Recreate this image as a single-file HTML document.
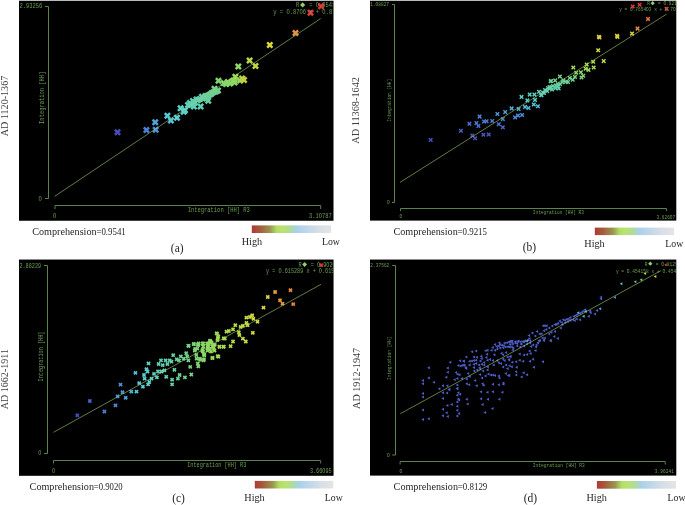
<!DOCTYPE html>
<html><head><meta charset="utf-8"><style>
html,body{margin:0;padding:0;background:#fff;width:685px;height:505px;overflow:hidden}
svg{display:block;will-change:transform}
</style></head><body>
<svg width="685" height="505" viewBox="0 0 685 505">
<defs><linearGradient id="cb" x1="0" x2="1" y1="0" y2="0">
<stop offset="0" stop-color="#ad3a36"/>
<stop offset="0.10" stop-color="#a55a3c"/>
<stop offset="0.23" stop-color="#9a9650"/>
<stop offset="0.31" stop-color="#b0dc64"/>
<stop offset="0.38" stop-color="#bce26e"/>
<stop offset="0.48" stop-color="#aedc98"/>
<stop offset="0.55" stop-color="#a8d2e0"/>
<stop offset="0.60" stop-color="#b0d2ec"/>
<stop offset="0.72" stop-color="#c4d8e8"/>
<stop offset="0.85" stop-color="#d8dfe6"/>
<stop offset="1" stop-color="#e4e4e6"/>
</linearGradient>
<clipPath id="ca"><rect x="19" y="0.73" width="314.5" height="220"/></clipPath>
<clipPath id="cbp"><rect x="370" y="0.73" width="306.3" height="220"/></clipPath>
<clipPath id="cc"><rect x="19" y="259.55" width="314.55" height="216"/></clipPath>
<clipPath id="cd"><rect x="370" y="259.55" width="306.3" height="216"/></clipPath>
</defs>
<rect width="685" height="505" fill="#fff"/>
<rect x="19" y="0.73" width="314.50" height="220.02" fill="#000"/>
<rect x="370" y="0.73" width="306.30" height="219.87" fill="#000"/>
<rect x="19" y="259.55" width="314.55" height="216.25" fill="#000"/>
<rect x="370" y="259.55" width="306.30" height="216.05" fill="#000"/>
<path d="M45 6.5H48.5V198.5H45" fill="none" stroke="#5a844a" stroke-width="1"/>
<path d="M55 209V205.5H320.7V209" fill="none" stroke="#5a844a" stroke-width="1"/>
<path d="M392 4.5H394.5V202.5H392" fill="none" stroke="#5a844a" stroke-width="1"/>
<path d="M400.5 211V208.5H666.5V211" fill="none" stroke="#5a844a" stroke-width="1"/>
<path d="M44 265.5H47.5V453.5H44" fill="none" stroke="#5a844a" stroke-width="1"/>
<path d="M53.5 463.5V460.5H320.7V463.5" fill="none" stroke="#5a844a" stroke-width="1"/>
<path d="M392.2 265.5H395.5V455H392.2" fill="none" stroke="#5a844a" stroke-width="1"/>
<path d="M400.1 464.5V461.5H665.2V464.5" fill="none" stroke="#5a844a" stroke-width="1"/>
<path d="M119.23 128.70L121.00 130.47L119.27 132.20L121.00 133.93L119.23 135.70L117.50 133.97L115.77 135.70L114.00 133.93L115.73 132.20L114.00 130.47L115.77 128.70L117.50 130.43Z" fill="#484cb8"/>
<path d="M148.13 126.50L149.90 128.27L148.17 130.00L149.90 131.73L148.13 133.50L146.40 131.77L144.67 133.50L142.90 131.73L144.63 130.00L142.90 128.27L144.67 126.50L146.40 128.23Z" fill="#4882d8"/>
<path d="M156.93 118.70L158.70 120.47L156.97 122.20L158.70 123.93L156.93 125.70L155.20 123.97L153.47 125.70L151.70 123.93L153.43 122.20L151.70 120.47L153.47 118.70L155.20 120.43Z" fill="#4fa4d8"/>
<path d="M157.43 126.20L159.20 127.97L157.47 129.70L159.20 131.43L157.43 133.20L155.70 131.47L153.97 133.20L152.20 131.43L153.93 129.70L152.20 127.97L153.97 126.20L155.70 127.93Z" fill="#4b92d8"/>
<path d="M169.13 112.20L170.90 113.97L169.17 115.70L170.90 117.43L169.13 119.20L167.40 117.47L165.67 119.20L163.90 117.43L165.63 115.70L163.90 113.97L165.67 112.20L167.40 113.93Z" fill="#56c8d8"/>
<path d="M172.63 116.90L174.40 118.67L172.67 120.40L174.40 122.13L172.63 123.90L170.90 122.17L169.17 123.90L167.40 122.13L169.13 120.40L167.40 118.67L169.17 116.90L170.90 118.63Z" fill="#55c2d8"/>
<path d="M178.73 114.30L180.50 116.07L178.77 117.80L180.50 119.53L178.73 121.30L177.00 119.57L175.27 121.30L173.50 119.53L175.23 117.80L173.50 116.07L175.27 114.30L177.00 116.03Z" fill="#58d0d7"/>
<path d="M182.33 104.70L184.10 106.47L182.37 108.20L184.10 109.93L182.33 111.70L180.60 109.97L178.87 111.70L177.10 109.93L178.83 108.20L177.10 106.47L178.87 104.70L180.60 106.43Z" fill="#5bd0c7"/>
<path d="M185.43 108.20L187.20 109.97L185.47 111.70L187.20 113.43L185.43 115.20L183.70 113.47L181.97 115.20L180.20 113.43L181.93 111.70L180.20 109.97L181.97 108.20L183.70 109.93Z" fill="#5bd0c9"/>
<path d="M186.73 106.70L188.50 108.47L186.77 110.20L188.50 111.93L186.73 113.70L185.00 111.97L183.27 113.70L181.50 111.93L183.23 110.20L181.50 108.47L183.27 106.70L185.00 108.43Z" fill="#5cd0c6"/>
<path d="M192.13 101.30L193.90 103.07L192.17 104.80L193.90 106.53L192.13 108.30L190.40 106.57L188.67 108.30L186.90 106.53L188.63 104.80L186.90 103.07L188.67 101.30L190.40 103.03Z" fill="#5ed0bb"/>
<path d="M195.63 103.10L197.40 104.87L195.67 106.60L197.40 108.33L195.63 110.10L193.90 108.37L192.17 110.10L190.40 108.33L192.13 106.60L190.40 104.87L192.17 103.10L193.90 104.83Z" fill="#5ed0ba"/>
<path d="M198.33 96.00L200.10 97.77L198.37 99.50L200.10 101.23L198.33 103.00L196.60 101.27L194.87 103.00L193.10 101.23L194.83 99.50L193.10 97.77L194.87 96.00L196.60 97.73Z" fill="#61d0ae"/>
<path d="M202.33 103.10L204.10 104.87L202.37 106.60L204.10 108.33L202.33 110.10L200.60 108.37L198.87 110.10L197.10 108.33L198.83 106.60L197.10 104.87L198.87 103.10L200.60 104.83Z" fill="#5fd0b5"/>
<path d="M203.73 93.30L205.50 95.07L203.77 96.80L205.50 98.53L203.73 100.30L202.00 98.57L200.27 100.30L198.50 98.53L200.23 96.80L198.50 95.07L200.27 93.30L202.00 95.03Z" fill="#66d0a5"/>
<path d="M207.23 92.40L209.00 94.17L207.27 95.90L209.00 97.63L207.23 99.40L205.50 97.67L203.77 99.40L202.00 97.63L203.73 95.90L202.00 94.17L203.77 92.40L205.50 94.13Z" fill="#68d0a0"/>
<path d="M209.93 97.30L211.70 99.07L209.97 100.80L211.70 102.53L209.93 104.30L208.20 102.57L206.47 104.30L204.70 102.53L206.43 100.80L204.70 99.07L206.47 97.30L208.20 99.03Z" fill="#66d0a5"/>
<path d="M212.63 90.60L214.40 92.37L212.67 94.10L214.40 95.83L212.63 97.60L210.90 95.87L209.17 97.60L207.40 95.83L209.13 94.10L207.40 92.37L209.17 90.60L210.90 92.33Z" fill="#6cd098"/>
<path d="M216.23 85.30L218.00 87.07L216.27 88.80L218.00 90.53L216.23 92.30L214.50 90.57L212.77 92.30L211.00 90.53L212.73 88.80L211.00 87.07L212.77 85.30L214.50 87.03Z" fill="#74d18a"/>
<path d="M219.73 87.00L221.50 88.77L219.77 90.50L221.50 92.23L219.73 94.00L218.00 92.27L216.27 94.00L214.50 92.23L216.23 90.50L214.50 88.77L216.27 87.00L218.00 88.73Z" fill="#74d189"/>
<path d="M220.23 77.20L222.00 78.97L220.27 80.70L222.00 82.43L220.23 84.20L218.50 82.47L216.77 84.20L215.00 82.43L216.73 80.70L215.00 78.97L216.77 77.20L218.50 78.93Z" fill="#82d672"/>
<path d="M225.53 79.50L227.30 81.27L225.57 83.00L227.30 84.73L225.53 86.50L223.80 84.77L222.07 86.50L220.30 84.73L222.03 83.00L220.30 81.27L222.07 79.50L223.80 81.23Z" fill="#83d670"/>
<path d="M229.63 78.50L231.40 80.27L229.67 82.00L231.40 83.73L229.63 85.50L227.90 83.77L226.17 85.50L224.40 83.73L226.13 82.00L224.40 80.27L226.17 78.50L227.90 80.23Z" fill="#88d868"/>
<path d="M234.93 77.20L236.70 78.97L234.97 80.70L236.70 82.43L234.93 84.20L233.20 82.47L231.47 84.20L229.70 82.43L231.43 80.70L229.70 78.97L231.47 77.20L233.20 78.93Z" fill="#91d960"/>
<path d="M237.13 73.20L238.90 74.97L237.17 76.70L238.90 78.43L237.13 80.20L235.40 78.47L233.67 80.20L231.90 78.43L233.63 76.70L231.90 74.97L233.67 73.20L235.40 74.93Z" fill="#9cda58"/>
<path d="M236.33 79.00L238.10 80.77L236.37 82.50L238.10 84.23L236.33 86.00L234.60 84.27L232.87 86.00L231.10 84.23L232.83 82.50L231.10 80.77L232.87 79.00L234.60 80.73Z" fill="#90d962"/>
<path d="M240.03 63.00L241.80 64.77L240.07 66.50L241.80 68.23L240.03 70.00L238.30 68.27L236.57 70.00L234.80 68.23L236.53 66.50L234.80 64.77L236.57 63.00L238.30 64.73Z" fill="#90d860"/>
<path d="M243.83 75.00L245.60 76.77L243.87 78.50L245.60 80.23L243.83 82.00L242.10 80.27L240.37 82.00L238.60 80.23L240.33 78.50L238.60 76.77L240.37 75.00L242.10 76.73Z" fill="#c8d040"/>
<path d="M251.33 57.10L253.10 58.87L251.37 60.60L253.10 62.33L251.33 64.10L249.60 62.37L247.87 64.10L246.10 62.33L247.83 60.60L246.10 58.87L247.87 57.10L249.60 58.83Z" fill="#b8d848"/>
<path d="M257.23 62.50L259.00 64.27L257.27 66.00L259.00 67.73L257.23 69.50L255.50 67.77L253.77 69.50L252.00 67.73L253.73 66.00L252.00 64.27L253.77 62.50L255.50 64.23Z" fill="#c0d840"/>
<path d="M271.53 41.60L273.30 43.37L271.57 45.10L273.30 46.83L271.53 48.60L269.80 46.87L268.07 48.60L266.30 46.83L268.03 45.10L266.30 43.37L268.07 41.60L269.80 43.33Z" fill="#d8d840"/>
<path d="M297.23 29.50L299.00 31.27L297.27 33.00L299.00 34.73L297.23 36.50L295.50 34.77L293.77 36.50L292.00 34.73L293.73 33.00L292.00 31.27L293.77 29.50L295.50 31.23Z" fill="#e88f40"/>
<path d="M312.23 9.30L314.00 11.07L312.27 12.80L314.00 14.53L312.23 16.30L310.50 14.57L308.77 16.30L307.00 14.53L308.73 12.80L307.00 11.07L308.77 9.30L310.50 11.03Z" fill="#e83a38"/>
<path d="M322.83 2.70L324.60 4.47L322.87 6.20L324.60 7.93L322.83 9.70L321.10 7.97L319.37 9.70L317.60 7.93L319.33 6.20L317.60 4.47L319.37 2.70L321.10 4.43Z" fill="#e83030"/>
<path d="M189.73 101.50L191.50 103.27L189.77 105.00L191.50 106.73L189.73 108.50L188.00 106.77L186.27 108.50L184.50 106.73L186.23 105.00L184.50 103.27L186.27 101.50L188.00 103.23Z" fill="#5dd0bd"/>
<path d="M191.73 99.50L193.50 101.27L191.77 103.00L193.50 104.73L191.73 106.50L190.00 104.77L188.27 106.50L186.50 104.73L188.23 103.00L186.50 101.27L188.27 99.50L190.00 101.23Z" fill="#5ed0b9"/>
<path d="M194.73 97.50L196.50 99.27L194.77 101.00L196.50 102.73L194.73 104.50L193.00 102.77L191.27 104.50L189.50 102.73L191.23 101.00L189.50 99.27L191.27 97.50L193.00 99.23Z" fill="#5fd0b3"/>
<path d="M196.73 99.00L198.50 100.77L196.77 102.50L198.50 104.23L196.73 106.00L195.00 104.27L193.27 106.00L191.50 104.23L193.23 102.50L191.50 100.77L193.27 99.00L195.00 100.73Z" fill="#5fd0b4"/>
<path d="M199.73 96.50L201.50 98.27L199.77 100.00L201.50 101.73L199.73 103.50L198.00 101.77L196.27 103.50L194.50 101.73L196.23 100.00L194.50 98.27L196.27 96.50L198.00 98.23Z" fill="#61d0ae"/>
<path d="M201.73 95.50L203.50 97.27L201.77 99.00L203.50 100.73L201.73 102.50L200.00 100.77L198.27 102.50L196.50 100.73L198.23 99.00L196.50 97.27L198.27 95.50L200.00 97.23Z" fill="#63d0aa"/>
<path d="M204.73 95.00L206.50 96.77L204.77 98.50L206.50 100.23L204.73 102.00L203.00 100.27L201.27 102.00L199.50 100.23L201.23 98.50L199.50 96.77L201.27 95.00L203.00 96.73Z" fill="#65d0a6"/>
<path d="M206.73 94.00L208.50 95.77L206.77 97.50L208.50 99.23L206.73 101.00L205.00 99.27L203.27 101.00L201.50 99.23L203.23 97.50L201.50 95.77L203.27 94.00L205.00 95.73Z" fill="#67d0a3"/>
<path d="M208.73 92.50L210.50 94.27L208.77 96.00L210.50 97.73L208.73 99.50L207.00 97.77L205.27 99.50L203.50 97.73L205.23 96.00L203.50 94.27L205.27 92.50L207.00 94.23Z" fill="#69d09e"/>
<path d="M210.73 91.50L212.50 93.27L210.77 95.00L212.50 96.73L210.73 98.50L209.00 96.77L207.27 98.50L205.50 96.73L207.23 95.00L205.50 93.27L207.27 91.50L209.00 93.23Z" fill="#6bd09b"/>
<path d="M213.73 89.50L215.50 91.27L213.77 93.00L215.50 94.73L213.73 96.50L212.00 94.77L210.27 96.50L208.50 94.73L210.23 93.00L208.50 91.27L210.27 89.50L212.00 91.23Z" fill="#6ed095"/>
<path d="M215.73 88.50L217.50 90.27L215.77 92.00L217.50 93.73L215.73 95.50L214.00 93.77L212.27 95.50L210.50 93.73L212.23 92.00L210.50 90.27L212.27 88.50L214.00 90.23Z" fill="#6fd091"/>
<path d="M217.73 88.00L219.50 89.77L217.77 91.50L219.50 93.23L217.73 95.00L216.00 93.27L214.27 95.00L212.50 93.23L214.23 91.50L212.50 89.77L214.27 88.00L216.00 89.73Z" fill="#71d08e"/>
<path d="M227.73 80.50L229.50 82.27L227.77 84.00L229.50 85.73L227.73 87.50L226.00 85.77L224.27 87.50L222.50 85.73L224.23 84.00L222.50 82.27L224.27 80.50L226.00 82.23Z" fill="#84d76f"/>
<path d="M231.73 80.00L233.50 81.77L231.77 83.50L233.50 85.23L231.73 87.00L230.00 85.27L228.27 87.00L226.50 85.23L228.23 83.50L226.50 81.77L228.27 80.00L230.00 81.73Z" fill="#88d868"/>
<path d="M241.73 77.00L243.50 78.77L241.77 80.50L243.50 82.23L241.73 84.00L240.00 82.27L238.27 84.00L236.50 82.23L238.23 80.50L236.50 78.77L238.27 77.00L240.00 78.73Z" fill="#9ada59"/>
<path d="M245.73 76.50L247.50 78.27L245.77 80.00L247.50 81.73L245.73 83.50L244.00 81.77L242.27 83.50L240.50 81.73L242.23 80.00L240.50 78.27L242.27 76.50L244.00 78.23Z" fill="#c0d040"/>
<path d="M431.96 137.62L432.98 138.64L431.72 139.90L432.98 141.16L431.96 142.18L430.70 140.92L429.44 142.18L428.42 141.16L429.68 139.90L428.42 138.64L429.44 137.62L430.70 138.88Z" fill="#484cb8"/>
<path d="M462.16 128.42L463.18 129.44L461.92 130.70L463.18 131.96L462.16 132.98L460.90 131.72L459.64 132.98L458.62 131.96L459.88 130.70L458.62 129.44L459.64 128.42L460.90 129.68Z" fill="#4861c4"/>
<path d="M470.66 121.42L471.68 122.44L470.42 123.70L471.68 124.96L470.66 125.98L469.40 124.72L468.14 125.98L467.12 124.96L468.38 123.70L467.12 122.44L468.14 121.42L469.40 122.68Z" fill="#4874d0"/>
<path d="M473.56 133.32L474.58 134.34L473.32 135.60L474.58 136.86L473.56 137.88L472.30 136.62L471.04 137.88L470.02 136.86L471.28 135.60L470.02 134.34L471.04 133.32L472.30 134.58Z" fill="#4856be"/>
<path d="M476.36 136.02L477.38 137.04L476.12 138.30L477.38 139.56L476.36 140.58L475.10 139.32L473.84 140.58L472.82 139.56L474.08 138.30L472.82 137.04L473.84 136.02L475.10 137.28Z" fill="#4850ba"/>
<path d="M477.66 120.82L478.68 121.84L477.42 123.10L478.68 124.36L477.66 125.38L476.40 124.12L475.14 125.38L474.12 124.36L475.38 123.10L474.12 121.84L475.14 120.82L476.40 122.08Z" fill="#4876d1"/>
<path d="M479.66 123.62L480.68 124.64L479.42 125.90L480.68 127.16L479.66 128.18L478.40 126.92L477.14 128.18L476.12 127.16L477.38 125.90L476.12 124.64L477.14 123.62L478.40 124.88Z" fill="#486ecc"/>
<path d="M480.86 114.32L481.88 115.34L480.62 116.60L481.88 117.86L480.86 118.88L479.60 117.62L478.34 118.88L477.32 117.86L478.58 116.60L477.32 115.34L478.34 114.32L479.60 115.58Z" fill="#4a8ad8"/>
<path d="M484.66 132.52L485.68 133.54L484.42 134.80L485.68 136.06L484.66 137.08L483.40 135.82L482.14 137.08L481.12 136.06L482.38 134.80L481.12 133.54L482.14 132.52L483.40 133.78Z" fill="#4858bf"/>
<path d="M485.26 119.32L486.28 120.34L485.02 121.60L486.28 122.86L485.26 123.88L484.00 122.62L482.74 123.88L481.72 122.86L482.98 121.60L481.72 120.34L482.74 119.32L484.00 120.58Z" fill="#487bd4"/>
<path d="M487.86 119.02L488.88 120.04L487.62 121.30L488.88 122.56L487.86 123.58L486.60 122.32L485.34 123.58L484.32 122.56L485.58 121.30L484.32 120.04L485.34 119.02L486.60 120.28Z" fill="#487cd4"/>
<path d="M489.96 132.22L490.98 133.24L489.72 134.50L490.98 135.76L489.96 136.78L488.70 135.52L487.44 136.78L486.42 135.76L487.68 134.50L486.42 133.24L487.44 132.22L488.70 133.48Z" fill="#4858bf"/>
<path d="M493.46 118.72L494.48 119.74L493.22 121.00L494.48 122.26L493.46 123.28L492.20 122.02L490.94 123.28L489.92 122.26L491.18 121.00L489.92 119.74L490.94 118.72L492.20 119.98Z" fill="#487dd5"/>
<path d="M498.66 111.72L499.68 112.74L498.42 114.00L499.68 115.26L498.66 116.28L497.40 115.02L496.14 116.28L495.12 115.26L496.38 114.00L495.12 112.74L496.14 111.72L497.40 112.98Z" fill="#4c94d8"/>
<path d="M500.06 122.02L501.08 123.04L499.82 124.30L501.08 125.56L500.06 126.58L498.80 125.32L497.54 126.58L496.52 125.56L497.78 124.30L496.52 123.04L497.54 122.02L498.80 123.28Z" fill="#4873cf"/>
<path d="M504.06 125.02L505.08 126.04L503.82 127.30L505.08 128.56L504.06 129.58L502.80 128.32L501.54 129.58L500.52 128.56L501.78 127.30L500.52 126.04L501.54 125.02L502.80 126.28Z" fill="#4869c9"/>
<path d="M504.06 116.82L505.08 117.84L503.82 119.10L505.08 120.36L504.06 121.38L502.80 120.12L501.54 121.38L500.52 120.36L501.78 119.10L500.52 117.84L501.54 116.82L502.80 118.08Z" fill="#4883d8"/>
<path d="M506.46 109.82L507.48 110.84L506.22 112.10L507.48 113.36L506.46 114.38L505.20 113.12L503.94 114.38L502.92 113.36L504.18 112.10L502.92 110.84L503.94 109.82L505.20 111.08Z" fill="#4e9ed8"/>
<path d="M512.86 106.12L513.88 107.14L512.62 108.40L513.88 109.66L512.86 110.68L511.60 109.42L510.34 110.68L509.32 109.66L510.58 108.40L509.32 107.14L510.34 106.12L511.60 107.38Z" fill="#52b1d8"/>
<path d="M516.36 115.12L517.38 116.14L516.12 117.40L517.38 118.66L516.36 119.68L515.10 118.42L513.84 119.68L512.82 118.66L514.08 117.40L512.82 116.14L513.84 115.12L515.10 116.38Z" fill="#4988d8"/>
<path d="M519.26 113.32L520.28 114.34L519.02 115.60L520.28 116.86L519.26 117.88L518.00 116.62L516.74 117.88L515.72 116.86L516.98 115.60L515.72 114.34L516.74 113.32L518.00 114.58Z" fill="#4a8dd8"/>
<path d="M523.36 112.72L524.38 113.74L523.12 115.00L524.38 116.26L523.36 117.28L522.10 116.02L520.84 117.28L519.82 116.26L521.08 115.00L519.82 113.74L520.84 112.72L522.10 113.98Z" fill="#4b8fd8"/>
<path d="M519.86 106.72L520.88 107.74L519.62 109.00L520.88 110.26L519.86 111.28L518.60 110.02L517.34 111.28L516.32 110.26L517.58 109.00L516.32 107.74L517.34 106.72L518.60 107.98Z" fill="#51aed8"/>
<path d="M522.76 94.62L523.78 95.64L522.52 96.90L523.78 98.16L522.76 99.18L521.50 97.92L520.24 99.18L519.22 98.16L520.48 96.90L519.22 95.64L520.24 94.62L521.50 95.88Z" fill="#5bd0c9"/>
<path d="M526.26 104.62L527.28 105.64L526.02 106.90L527.28 108.16L526.26 109.18L525.00 107.92L523.74 109.18L522.72 108.16L523.98 106.90L522.72 105.64L523.74 104.62L525.00 105.88Z" fill="#53b9d8"/>
<path d="M529.76 105.72L530.78 106.74L529.52 108.00L530.78 109.26L529.76 110.28L528.50 109.02L527.24 110.28L526.22 109.26L527.48 108.00L526.22 106.74L527.24 105.72L528.50 106.98Z" fill="#52b3d8"/>
<path d="M528.66 98.12L529.68 99.14L528.42 100.40L529.68 101.66L528.66 102.68L527.40 101.42L526.14 102.68L525.12 101.66L526.38 100.40L525.12 99.14L526.14 98.12L527.40 99.38Z" fill="#59d0d2"/>
<path d="M530.96 92.32L531.98 93.34L530.72 94.60L531.98 95.86L530.96 96.88L529.70 95.62L528.44 96.88L527.42 95.86L528.68 94.60L527.42 93.34L528.44 92.32L529.70 93.58Z" fill="#5cd0c3"/>
<path d="M535.06 102.22L536.08 103.24L534.82 104.50L536.08 105.76L535.06 106.78L533.80 105.52L532.54 106.78L531.52 105.76L532.78 104.50L531.52 103.24L532.54 102.22L533.80 103.48Z" fill="#56c6d8"/>
<path d="M536.26 97.62L537.28 98.64L536.02 99.90L537.28 101.16L536.26 102.18L535.00 100.92L533.74 102.18L532.72 101.16L533.98 99.90L532.72 98.64L533.74 97.62L535.00 98.88Z" fill="#59d0d1"/>
<path d="M535.66 92.32L536.68 93.34L535.42 94.60L536.68 95.86L535.66 96.88L534.40 95.62L533.14 96.88L532.12 95.86L533.38 94.60L532.12 93.34L533.14 92.32L534.40 93.58Z" fill="#5cd0c3"/>
<path d="M539.16 104.02L540.18 105.04L538.92 106.30L540.18 107.56L539.16 108.58L537.90 107.32L536.64 108.58L535.62 107.56L536.88 106.30L535.62 105.04L536.64 104.02L537.90 105.28Z" fill="#54bcd8"/>
<path d="M540.26 89.42L541.28 90.44L540.02 91.70L541.28 92.96L540.26 93.98L539.00 92.72L537.74 93.98L536.72 92.96L537.98 91.70L536.72 90.44L537.74 89.42L539.00 90.68Z" fill="#5ed0bb"/>
<path d="M542.66 92.92L543.68 93.94L542.42 95.20L543.68 96.46L542.66 97.48L541.40 96.22L540.14 97.48L539.12 96.46L540.38 95.20L539.12 93.94L540.14 92.92L541.40 94.18Z" fill="#5cd0c5"/>
<path d="M548.46 88.82L549.48 89.84L548.22 91.10L549.48 92.36L548.46 93.38L547.20 92.12L545.94 93.38L544.92 92.36L546.18 91.10L544.92 89.84L545.94 88.82L547.20 90.08Z" fill="#5ed0ba"/>
<path d="M550.86 84.72L551.88 85.74L550.62 87.00L551.88 88.26L550.86 89.28L549.60 88.02L548.34 89.28L547.32 88.26L548.58 87.00L547.32 85.74L548.34 84.72L549.60 85.98Z" fill="#61d0ae"/>
<path d="M556.66 85.92L557.68 86.94L556.42 88.20L557.68 89.46L556.66 90.48L555.40 89.22L554.14 90.48L553.12 89.46L554.38 88.20L553.12 86.94L554.14 85.92L555.40 87.18Z" fill="#60d0b2"/>
<path d="M558.96 84.72L559.98 85.74L558.72 87.00L559.98 88.26L558.96 89.28L557.70 88.02L556.44 89.28L555.42 88.26L556.68 87.00L555.42 85.74L556.44 84.72L557.70 85.98Z" fill="#61d0ae"/>
<path d="M551.96 78.92L552.98 79.94L551.72 81.20L552.98 82.46L551.96 83.48L550.70 82.22L549.44 83.48L548.42 82.46L549.68 81.20L548.42 79.94L549.44 78.92L550.70 80.18Z" fill="#6cd097"/>
<path d="M563.66 80.02L564.68 81.04L563.42 82.30L564.68 83.56L563.66 84.58L562.40 83.32L561.14 84.58L560.12 83.56L561.38 82.30L560.12 81.04L561.14 80.02L562.40 81.28Z" fill="#6ad09c"/>
<path d="M567.26 79.52L568.28 80.54L567.02 81.80L568.28 83.06L567.26 84.08L566.00 82.82L564.74 84.08L563.72 83.06L564.98 81.80L563.72 80.54L564.74 79.52L566.00 80.78Z" fill="#6bd09a"/>
<path d="M542.46 92.72L543.48 93.74L542.22 95.00L543.48 96.26L542.46 97.28L541.20 96.02L539.94 97.28L538.92 96.26L540.18 95.00L538.92 93.74L539.94 92.72L541.20 93.98Z" fill="#5cd0c4"/>
<path d="M545.26 90.72L546.28 91.74L545.02 93.00L546.28 94.26L545.26 95.28L544.00 94.02L542.74 95.28L541.72 94.26L542.98 93.00L541.72 91.74L542.74 90.72L544.00 91.98Z" fill="#5dd0bf"/>
<path d="M551.16 86.22L552.18 87.24L550.92 88.50L552.18 89.76L551.16 90.78L549.90 89.52L548.64 90.78L547.62 89.76L548.88 88.50L547.62 87.24L548.64 86.22L549.90 87.48Z" fill="#5fd0b3"/>
<path d="M553.26 87.22L554.28 88.24L553.02 89.50L554.28 90.76L553.26 91.78L552.00 90.52L550.74 91.78L549.72 90.76L550.98 89.50L549.72 88.24L550.74 87.22L552.00 88.48Z" fill="#5fd0b5"/>
<path d="M559.96 86.22L560.98 87.24L559.72 88.50L560.98 89.76L559.96 90.78L558.70 89.52L557.44 90.78L556.42 89.76L557.68 88.50L556.42 87.24L557.44 86.22L558.70 87.48Z" fill="#5fd0b3"/>
<path d="M552.36 78.72L553.38 79.74L552.12 81.00L553.38 82.26L552.36 83.28L551.10 82.02L549.84 83.28L548.82 82.26L550.08 81.00L548.82 79.74L549.84 78.72L551.10 79.98Z" fill="#6dd096"/>
<path d="M556.46 78.12L557.48 79.14L556.22 80.40L557.48 81.66L556.46 82.68L555.20 81.42L553.94 82.68L552.92 81.66L554.18 80.40L552.92 79.14L553.94 78.12L555.20 79.38Z" fill="#6ed094"/>
<path d="M561.16 74.32L562.18 75.34L560.92 76.60L562.18 77.86L561.16 78.88L559.90 77.62L558.64 78.88L557.62 77.86L558.88 76.60L557.62 75.34L558.64 74.32L559.90 75.58Z" fill="#7bd47d"/>
<path d="M564.66 78.12L565.68 79.14L564.42 80.40L565.68 81.66L564.66 82.68L563.40 81.42L562.14 82.68L561.12 81.66L562.38 80.40L561.12 79.14L562.14 78.12L563.40 79.38Z" fill="#6ed094"/>
<path d="M569.26 79.82L570.28 80.84L569.02 82.10L570.28 83.36L569.26 84.38L568.00 83.12L566.74 84.38L565.72 83.36L566.98 82.10L565.72 80.84L566.74 79.82L568.00 81.08Z" fill="#6ad09b"/>
<path d="M571.06 75.72L572.08 76.74L570.82 78.00L572.08 79.26L571.06 80.28L569.80 79.02L568.54 80.28L567.52 79.26L568.78 78.00L567.52 76.74L568.54 75.72L569.80 76.98Z" fill="#76d286"/>
<path d="M573.96 77.52L574.98 78.54L573.72 79.80L574.98 81.06L573.96 82.08L572.70 80.82L571.44 82.08L570.42 81.06L571.68 79.80L570.42 78.54L571.44 77.52L572.70 78.78Z" fill="#6fd091"/>
<path d="M576.26 74.62L577.28 75.64L576.02 76.90L577.28 78.16L576.26 79.18L575.00 77.92L573.74 79.18L572.72 78.16L573.98 76.90L572.72 75.64L573.74 74.62L575.00 75.88Z" fill="#7ad37f"/>
<path d="M577.46 70.52L578.48 71.54L577.22 72.80L578.48 74.06L577.46 75.08L576.20 73.82L574.94 75.08L573.92 74.06L575.18 72.80L573.92 71.54L574.94 70.52L576.20 71.78Z" fill="#89d867"/>
<path d="M582.16 69.92L583.18 70.94L581.92 72.20L583.18 73.46L582.16 74.48L580.90 73.22L579.64 74.48L578.62 73.46L579.88 72.20L578.62 70.94L579.64 69.92L580.90 71.18Z" fill="#8cd865"/>
<path d="M582.76 75.22L583.78 76.24L582.52 77.50L583.78 78.76L582.76 79.78L581.50 78.52L580.24 79.78L579.22 78.76L580.48 77.50L579.22 76.24L580.24 75.22L581.50 76.48Z" fill="#78d383"/>
<path d="M584.46 73.42L585.48 74.44L584.22 75.70L585.48 76.96L584.46 77.98L583.20 76.72L581.94 77.98L580.92 76.96L582.18 75.70L580.92 74.44L581.94 73.42L583.20 74.68Z" fill="#7fd578"/>
<path d="M574.56 65.22L575.58 66.24L574.32 67.50L575.58 68.76L574.56 69.78L573.30 68.52L572.04 69.78L571.02 68.76L572.28 67.50L571.02 66.24L572.04 65.22L573.30 66.48Z" fill="#a4db52"/>
<path d="M586.86 66.42L587.88 67.44L586.62 68.70L587.88 69.96L586.86 70.98L585.60 69.72L584.34 70.98L583.32 69.96L584.58 68.70L583.32 67.44L584.34 66.42L585.60 67.68Z" fill="#9eda57"/>
<path d="M589.76 67.62L590.78 68.64L589.52 69.90L590.78 71.16L589.76 72.18L588.50 70.92L587.24 72.18L586.22 71.16L587.48 69.90L586.22 68.64L587.24 67.62L588.50 68.88Z" fill="#98da5c"/>
<path d="M587.96 62.32L588.98 63.34L587.72 64.60L588.98 65.86L587.96 66.88L586.70 65.62L585.44 66.88L584.42 65.86L585.68 64.60L584.42 63.34L585.44 62.32L586.70 63.58Z" fill="#b1dc48"/>
<path d="M594.46 59.42L595.48 60.44L594.22 61.70L595.48 62.96L594.46 63.98L593.20 62.72L591.94 63.98L590.92 62.96L592.18 61.70L590.92 60.44L591.94 59.42L593.20 60.68Z" fill="#b9dc46"/>
<path d="M594.96 65.22L595.98 66.24L594.72 67.50L595.98 68.76L594.96 69.78L593.70 68.52L592.44 69.78L591.42 68.76L592.68 67.50L591.42 66.24L592.44 65.22L593.70 66.48Z" fill="#a4db52"/>
<path d="M604.96 58.82L605.98 59.84L604.72 61.10L605.98 62.36L604.96 63.38L603.70 62.12L602.44 63.38L601.42 62.36L602.68 61.10L601.42 59.84L602.44 58.82L603.70 60.08Z" fill="#badc46"/>
<path d="M599.46 47.92L600.48 48.94L599.22 50.20L600.48 51.46L599.46 52.48L598.20 51.22L596.94 52.48L595.92 51.46L597.18 50.20L595.92 48.94L596.94 47.92L598.20 49.18Z" fill="#d7dc40"/>
<path d="M600.06 34.42L601.08 35.44L599.82 36.70L601.08 37.96L600.06 38.98L598.80 37.72L597.54 38.98L596.52 37.96L597.78 36.70L596.52 35.44L597.54 34.42L598.80 35.68Z" fill="#ddd440"/>
<path d="M600.76 35.22L601.78 36.24L600.52 37.50L601.78 38.76L600.76 39.78L599.50 38.52L598.24 39.78L597.22 38.76L598.48 37.50L597.22 36.24L598.24 35.22L599.50 36.48Z" fill="#ddd440"/>
<path d="M618.26 33.52L619.28 34.54L618.02 35.80L619.28 37.06L618.26 38.08L617.00 36.82L615.74 38.08L614.72 37.06L615.98 35.80L614.72 34.54L615.74 33.52L617.00 34.78Z" fill="#ded340"/>
<path d="M618.76 34.72L619.78 35.74L618.52 37.00L619.78 38.26L618.76 39.28L617.50 38.02L616.24 39.28L615.22 38.26L616.48 37.00L615.22 35.74L616.24 34.72L617.50 35.98Z" fill="#ddd440"/>
<path d="M633.26 31.32L634.28 32.34L633.02 33.60L634.28 34.86L633.26 35.88L632.00 34.62L630.74 35.88L629.72 34.86L630.98 33.60L629.72 32.34L630.74 31.32L632.00 32.58Z" fill="#dfd240"/>
<path d="M638.76 26.32L639.78 27.34L638.52 28.60L639.78 29.86L638.76 30.88L637.50 29.62L636.24 30.88L635.22 29.86L636.48 28.60L635.22 27.34L636.24 26.32L637.50 27.58Z" fill="#e88f40"/>
<path d="M649.26 16.82L650.28 17.84L649.02 19.10L650.28 20.36L649.26 21.38L648.00 20.12L646.74 21.38L645.72 20.36L646.98 19.10L645.72 17.84L646.74 16.82L648.00 18.08Z" fill="#e87a3e"/>
<path d="M633.96 4.22L634.98 5.24L633.72 6.50L634.98 7.76L633.96 8.78L632.70 7.52L631.44 8.78L630.42 7.76L631.68 6.50L630.42 5.24L631.44 4.22L632.70 5.48Z" fill="#e83434"/>
<path d="M640.86 2.52L641.88 3.54L640.62 4.80L641.88 6.06L640.86 7.08L639.60 5.82L638.34 7.08L637.32 6.06L638.58 4.80L637.32 3.54L638.34 2.52L639.60 3.78Z" fill="#e83333"/>
<path d="M667.86 6.52L668.88 7.54L667.62 8.80L668.88 10.06L667.86 11.08L666.60 9.82L665.34 11.08L664.32 10.06L665.58 8.80L664.32 7.54L665.34 6.52L666.60 7.78Z" fill="#e83636"/>
<path d="M546.26 87.72L547.28 88.74L546.02 90.00L547.28 91.26L546.26 92.28L545.00 91.02L543.74 92.28L542.72 91.26L543.98 90.00L542.72 88.74L543.74 87.72L545.00 88.98Z" fill="#5fd0b7"/>
<path d="M549.26 85.72L550.28 86.74L549.02 88.00L550.28 89.26L549.26 90.28L548.00 89.02L546.74 90.28L545.72 89.26L546.98 88.00L545.72 86.74L546.74 85.72L548.00 86.98Z" fill="#60d0b1"/>
<path d="M552.26 85.22L553.28 86.24L552.02 87.50L553.28 88.76L552.26 89.78L551.00 88.52L549.74 89.78L548.72 88.76L549.98 87.50L548.72 86.24L549.74 85.22L551.00 86.48Z" fill="#60d0b0"/>
<path d="M554.26 83.72L555.28 84.74L554.02 86.00L555.28 87.26L554.26 88.28L553.00 87.02L551.74 88.28L550.72 87.26L551.98 86.00L550.72 84.74L551.74 83.72L553.00 84.98Z" fill="#62d0ab"/>
<path d="M557.26 83.22L558.28 84.24L557.02 85.50L558.28 86.76L557.26 87.78L556.00 86.52L554.74 87.78L553.72 86.76L554.98 85.50L553.72 84.24L554.74 83.22L556.00 84.48Z" fill="#63d0aa"/>
<path d="M559.26 82.22L560.28 83.24L559.02 84.50L560.28 85.76L559.26 86.78L558.00 85.52L556.74 86.78L555.72 85.76L556.98 84.50L555.72 83.24L556.74 82.22L558.00 83.48Z" fill="#65d0a6"/>
<path d="M561.26 81.72L562.28 82.74L561.02 84.00L562.28 85.26L561.26 86.28L560.00 85.02L558.74 86.28L557.72 85.26L558.98 84.00L557.72 82.74L558.74 81.72L560.00 82.98Z" fill="#66d0a4"/>
<path d="M544.26 90.22L545.28 91.24L544.02 92.50L545.28 93.76L544.26 94.78L543.00 93.52L541.74 94.78L540.72 93.76L541.98 92.50L540.72 91.24L541.74 90.22L543.00 91.48Z" fill="#5dd0bd"/>
<path d="M78.25 413.14L79.46 414.35L78.50 415.30L79.46 416.25L78.25 417.46L77.30 416.50L76.35 417.46L75.14 416.25L76.10 415.30L75.14 414.35L76.35 413.14L77.30 414.10Z" fill="#484db8"/>
<path d="M90.75 398.84L91.96 400.05L91.00 401.00L91.96 401.95L90.75 403.16L89.80 402.20L88.85 403.16L87.64 401.95L88.60 401.00L87.64 400.05L88.85 398.84L89.80 399.80Z" fill="#4863c5"/>
<path d="M105.35 409.34L106.56 410.55L105.60 411.50L106.56 412.45L105.35 413.66L104.40 412.70L103.45 413.66L102.24 412.45L103.20 411.50L102.24 410.55L103.45 409.34L104.40 410.30Z" fill="#487ad4"/>
<path d="M116.45 403.24L117.66 404.45L116.70 405.40L117.66 406.35L116.45 407.56L115.50 406.60L114.55 407.56L113.34 406.35L114.30 405.40L113.34 404.45L114.55 403.24L115.50 404.20Z" fill="#4989d8"/>
<path d="M118.55 394.14L119.76 395.35L118.80 396.30L119.76 397.25L118.55 398.46L117.60 397.50L116.65 398.46L115.44 397.25L116.40 396.30L115.44 395.35L116.65 394.14L117.60 395.10Z" fill="#4a8cd8"/>
<path d="M121.45 382.44L122.66 383.65L121.70 384.60L122.66 385.55L121.45 386.76L120.50 385.80L119.55 386.76L118.34 385.55L119.30 384.60L118.34 383.65L119.55 382.44L120.50 383.40Z" fill="#4b91d8"/>
<path d="M123.45 390.04L124.66 391.25L123.70 392.20L124.66 393.15L123.45 394.36L122.50 393.40L121.55 394.36L120.34 393.15L121.30 392.20L120.34 391.25L121.55 390.04L122.50 391.00Z" fill="#4c97d8"/>
<path d="M126.65 395.64L127.86 396.85L126.90 397.80L127.86 398.75L126.65 399.96L125.70 399.00L124.75 399.96L123.54 398.75L124.50 397.80L123.54 396.85L124.75 395.64L125.70 396.60Z" fill="#4ea2d8"/>
<path d="M132.25 389.44L133.46 390.65L132.50 391.60L133.46 392.55L132.25 393.76L131.30 392.80L130.35 393.76L129.14 392.55L130.10 391.60L129.14 390.65L130.35 389.44L131.30 390.40Z" fill="#52b4d8"/>
<path d="M137.45 389.44L138.66 390.65L137.70 391.60L138.66 392.55L137.45 393.76L136.50 392.80L135.55 393.76L134.34 392.55L135.30 391.60L134.34 390.65L135.55 389.44L136.50 390.40Z" fill="#56c5d8"/>
<path d="M136.35 370.74L137.56 371.95L136.60 372.90L137.56 373.85L136.35 375.06L135.40 374.10L134.45 375.06L133.24 373.85L134.20 372.90L133.24 371.95L134.45 370.74L135.40 371.70Z" fill="#55c1d8"/>
<path d="M140.15 380.94L141.36 382.15L140.40 383.10L141.36 384.05L140.15 385.26L139.20 384.30L138.25 385.26L137.04 384.05L138.00 383.10L137.04 382.15L138.25 380.94L139.20 381.90Z" fill="#57cdd8"/>
<path d="M143.85 384.54L145.06 385.75L144.10 386.70L145.06 387.65L143.85 388.86L142.90 387.90L141.95 388.86L140.74 387.65L141.70 386.70L140.74 385.75L141.95 384.54L142.90 385.50Z" fill="#59d0d3"/>
<path d="M144.95 372.84L146.16 374.05L145.20 375.00L146.16 375.95L144.95 377.16L144.00 376.20L143.05 377.16L141.84 375.95L142.80 375.00L141.84 374.05L143.05 372.84L144.00 373.80Z" fill="#59d0d1"/>
<path d="M145.55 376.44L146.76 377.65L145.80 378.60L146.76 379.55L145.55 380.76L144.60 379.80L143.65 380.76L142.44 379.55L143.40 378.60L142.44 377.65L143.65 376.44L144.60 377.40Z" fill="#5ad0d0"/>
<path d="M147.35 367.04L148.56 368.25L147.60 369.20L148.56 370.15L147.35 371.36L146.40 370.40L145.45 371.36L144.24 370.15L145.20 369.20L144.24 368.25L145.45 367.04L146.40 368.00Z" fill="#5ad0cd"/>
<path d="M148.45 369.34L149.66 370.55L148.70 371.50L149.66 372.45L148.45 373.66L147.50 372.70L146.55 373.66L145.34 372.45L146.30 371.50L145.34 370.55L146.55 369.34L147.50 370.30Z" fill="#5ad0cc"/>
<path d="M149.05 382.24L150.26 383.45L149.30 384.40L150.26 385.35L149.05 386.56L148.10 385.60L147.15 386.56L145.94 385.35L146.90 384.40L145.94 383.45L147.15 382.24L148.10 383.20Z" fill="#5bd0ca"/>
<path d="M150.25 379.84L151.46 381.05L150.50 382.00L151.46 382.95L150.25 384.16L149.30 383.20L148.35 384.16L147.14 382.95L148.10 382.00L147.14 381.05L148.35 379.84L149.30 380.80Z" fill="#5bd0c8"/>
<path d="M152.55 376.44L153.76 377.65L152.80 378.60L153.76 379.55L152.55 380.76L151.60 379.80L150.65 380.76L149.44 379.55L150.40 378.60L149.44 377.65L150.65 376.44L151.60 377.40Z" fill="#5cd0c5"/>
<path d="M149.45 361.24L150.66 362.45L149.70 363.40L150.66 364.35L149.45 365.56L148.50 364.60L147.55 365.56L146.34 364.35L147.30 363.40L146.34 362.45L147.55 361.24L148.50 362.20Z" fill="#5bd0ca"/>
<path d="M154.95 371.74L156.16 372.95L155.20 373.90L156.16 374.85L154.95 376.06L154.00 375.10L153.05 376.06L151.84 374.85L152.80 373.90L151.84 372.95L153.05 371.74L154.00 372.70Z" fill="#5dd0c1"/>
<path d="M157.85 375.24L159.06 376.45L158.10 377.40L159.06 378.35L157.85 379.56L156.90 378.60L155.95 379.56L154.74 378.35L155.70 377.40L154.74 376.45L155.95 375.24L156.90 376.20Z" fill="#5ed0bc"/>
<path d="M158.95 369.34L160.16 370.55L159.20 371.50L160.16 372.45L158.95 373.66L158.00 372.70L157.05 373.66L155.84 372.45L156.80 371.50L155.84 370.55L157.05 369.34L158.00 370.30Z" fill="#5ed0ba"/>
<path d="M159.55 361.84L160.76 363.05L159.80 364.00L160.76 364.95L159.55 366.16L158.60 365.20L157.65 366.16L156.44 364.95L157.40 364.00L156.44 363.05L157.65 361.84L158.60 362.80Z" fill="#5ed0b9"/>
<path d="M161.95 358.24L163.16 359.45L162.20 360.40L163.16 361.35L161.95 362.56L161.00 361.60L160.05 362.56L158.84 361.35L159.80 360.40L158.84 359.45L160.05 358.24L161.00 359.20Z" fill="#5fd0b5"/>
<path d="M162.45 369.34L163.66 370.55L162.70 371.50L163.66 372.45L162.45 373.66L161.50 372.70L160.55 373.66L159.34 372.45L160.30 371.50L159.34 370.55L160.55 369.34L161.50 370.30Z" fill="#5fd0b5"/>
<path d="M163.65 362.94L164.86 364.15L163.90 365.10L164.86 366.05L163.65 367.26L162.70 366.30L161.75 367.26L160.54 366.05L161.50 365.10L160.54 364.15L161.75 362.94L162.70 363.90Z" fill="#5fd0b3"/>
<path d="M165.45 368.24L166.66 369.45L165.70 370.40L166.66 371.35L165.45 372.56L164.50 371.60L163.55 372.56L162.34 371.35L163.30 370.40L162.34 369.45L163.55 368.24L164.50 369.20Z" fill="#60d0b1"/>
<path d="M166.55 358.24L167.76 359.45L166.80 360.40L167.76 361.35L166.55 362.56L165.60 361.60L164.65 362.56L163.44 361.35L164.40 360.40L163.44 359.45L164.65 358.24L165.60 359.20Z" fill="#60d0af"/>
<path d="M167.15 374.64L168.36 375.85L167.40 376.80L168.36 377.75L167.15 378.96L166.20 378.00L165.25 378.96L164.04 377.75L165.00 376.80L164.04 375.85L165.25 374.64L166.20 375.60Z" fill="#61d0ae"/>
<path d="M168.35 361.84L169.56 363.05L168.60 364.00L169.56 364.95L168.35 366.16L167.40 365.20L166.45 366.16L165.24 364.95L166.20 364.00L165.24 363.05L166.45 361.84L167.40 362.80Z" fill="#62d0ac"/>
<path d="M170.65 358.24L171.86 359.45L170.90 360.40L171.86 361.35L170.65 362.56L169.70 361.60L168.75 362.56L167.54 361.35L168.50 360.40L167.54 359.45L168.75 358.24L169.70 359.20Z" fill="#64d0a8"/>
<path d="M172.45 359.44L173.66 360.65L172.70 361.60L173.66 362.55L172.45 363.76L171.50 362.80L170.55 363.76L169.34 362.55L170.30 361.60L169.34 360.65L170.55 359.44L171.50 360.40Z" fill="#65d0a6"/>
<path d="M174.15 353.04L175.36 354.25L174.40 355.20L175.36 356.15L174.15 357.36L173.20 356.40L172.25 357.36L171.04 356.15L172.00 355.20L171.04 354.25L172.25 353.04L173.20 354.00Z" fill="#67d0a3"/>
<path d="M175.35 367.64L176.56 368.85L175.60 369.80L176.56 370.75L175.35 371.96L174.40 371.00L173.45 371.96L172.24 370.75L173.20 369.80L172.24 368.85L173.45 367.64L174.40 368.60Z" fill="#68d0a1"/>
<path d="M173.05 377.54L174.26 378.75L173.30 379.70L174.26 380.65L173.05 381.86L172.10 380.90L171.15 381.86L169.94 380.65L170.90 379.70L169.94 378.75L171.15 377.54L172.10 378.50Z" fill="#66d0a5"/>
<path d="M173.05 382.24L174.26 383.45L173.30 384.40L174.26 385.35L173.05 386.56L172.10 385.60L171.15 386.56L169.94 385.35L170.90 384.40L169.94 383.45L171.15 382.24L172.10 383.20Z" fill="#66d0a5"/>
<path d="M177.65 357.14L178.86 358.35L177.90 359.30L178.86 360.25L177.65 361.46L176.70 360.50L175.75 361.46L174.54 360.25L175.50 359.30L174.54 358.35L175.75 357.14L176.70 358.10Z" fill="#69d09d"/>
<path d="M179.95 358.24L181.16 359.45L180.20 360.40L181.16 361.35L179.95 362.56L179.00 361.60L178.05 362.56L176.84 361.35L177.80 360.40L176.84 359.45L178.05 358.24L179.00 359.20Z" fill="#6bd09a"/>
<path d="M181.75 354.24L182.96 355.45L182.00 356.40L182.96 357.35L181.75 358.56L180.80 357.60L179.85 358.56L178.64 357.35L179.60 356.40L178.64 355.45L179.85 354.24L180.80 355.20Z" fill="#6dd097"/>
<path d="M178.85 376.44L180.06 377.65L179.10 378.60L180.06 379.55L178.85 380.76L177.90 379.80L176.95 380.76L175.74 379.55L176.70 378.60L175.74 377.65L176.95 376.44L177.90 377.40Z" fill="#6ad09b"/>
<path d="M180.55 372.84L181.76 374.05L180.80 375.00L181.76 375.95L180.55 377.16L179.60 376.20L178.65 377.16L177.44 375.95L178.40 375.00L177.44 374.05L178.65 372.84L179.60 373.80Z" fill="#6cd099"/>
<path d="M184.65 356.54L185.86 357.75L184.90 358.70L185.86 359.65L184.65 360.86L183.70 359.90L182.75 360.86L181.54 359.65L182.50 358.70L181.54 357.75L182.75 356.54L183.70 357.50Z" fill="#6fd092"/>
<path d="M185.85 375.24L187.06 376.45L186.10 377.40L187.06 378.35L185.85 379.56L184.90 378.60L183.95 379.56L182.74 378.35L183.70 377.40L182.74 376.45L183.95 375.24L184.90 376.20Z" fill="#70d090"/>
<path d="M188.15 354.24L189.36 355.45L188.40 356.40L189.36 357.35L188.15 358.56L187.20 357.60L186.25 358.56L185.04 357.35L186.00 356.40L185.04 355.45L186.25 354.24L187.20 355.20Z" fill="#73d18b"/>
<path d="M189.35 358.24L190.56 359.45L189.60 360.40L190.56 361.35L189.35 362.56L188.40 361.60L187.45 362.56L186.24 361.35L187.20 360.40L186.24 359.45L187.45 358.24L188.40 359.20Z" fill="#75d288"/>
<path d="M189.35 343.64L190.56 344.85L189.60 345.80L190.56 346.75L189.35 347.96L188.40 347.00L187.45 347.96L186.24 346.75L187.20 345.80L186.24 344.85L187.45 343.64L188.40 344.60Z" fill="#75d288"/>
<path d="M191.15 364.74L192.36 365.95L191.40 366.90L192.36 367.85L191.15 369.06L190.20 368.10L189.25 369.06L188.04 367.85L189.00 366.90L188.04 365.95L189.25 364.74L190.20 365.70Z" fill="#77d284"/>
<path d="M192.25 372.34L193.46 373.55L192.50 374.50L193.46 375.45L192.25 376.66L191.30 375.70L190.35 376.66L189.14 375.45L190.10 374.50L189.14 373.55L190.35 372.34L191.30 373.30Z" fill="#79d382"/>
<path d="M194.65 341.94L195.86 343.15L194.90 344.10L195.86 345.05L194.65 346.26L193.70 345.30L192.75 346.26L191.54 345.05L192.50 344.10L191.54 343.15L192.75 341.94L193.70 342.90Z" fill="#7cd47c"/>
<path d="M195.75 348.34L196.96 349.55L196.00 350.50L196.96 351.45L195.75 352.66L194.80 351.70L193.85 352.66L192.64 351.45L193.60 350.50L192.64 349.55L193.85 348.34L194.80 349.30Z" fill="#7dd47a"/>
<path d="M197.55 356.54L198.76 357.75L197.80 358.70L198.76 359.65L197.55 360.86L196.60 359.90L195.65 360.86L194.44 359.65L195.40 358.70L194.44 357.75L195.65 356.54L196.60 357.50Z" fill="#80d575"/>
<path d="M198.75 361.24L199.96 362.45L199.00 363.40L199.96 364.35L198.75 365.56L197.80 364.60L196.85 365.56L195.64 364.35L196.60 363.40L195.64 362.45L196.85 361.24L197.80 362.20Z" fill="#82d673"/>
<path d="M199.25 364.14L200.46 365.35L199.50 366.30L200.46 367.25L199.25 368.46L198.30 367.50L197.35 368.46L196.14 367.25L197.10 366.30L196.14 365.35L197.35 364.14L198.30 365.10Z" fill="#82d672"/>
<path d="M198.75 342.54L199.96 343.75L199.00 344.70L199.96 345.65L198.75 346.86L197.80 345.90L196.85 346.86L195.64 345.65L196.60 344.70L195.64 343.75L196.85 342.54L197.80 343.50Z" fill="#82d673"/>
<path d="M201.05 357.74L202.26 358.95L201.30 359.90L202.26 360.85L201.05 362.06L200.10 361.10L199.15 362.06L197.94 360.85L198.90 359.90L197.94 358.95L199.15 357.74L200.10 358.70Z" fill="#85d76e"/>
<path d="M203.95 349.54L205.16 350.75L204.20 351.70L205.16 352.65L203.95 353.86L203.00 352.90L202.05 353.86L200.84 352.65L201.80 351.70L200.84 350.75L202.05 349.54L203.00 350.50Z" fill="#88d869"/>
<path d="M205.15 353.04L206.36 354.25L205.40 355.20L206.36 356.15L205.15 357.36L204.20 356.40L203.25 357.36L202.04 356.15L203.00 355.20L202.04 354.25L203.25 353.04L204.20 354.00Z" fill="#89d867"/>
<path d="M204.55 358.24L205.76 359.45L204.80 360.40L205.76 361.35L204.55 362.56L203.60 361.60L202.65 362.56L201.44 361.35L202.40 360.40L201.44 359.45L202.65 358.24L203.60 359.20Z" fill="#88d868"/>
<path d="M203.95 341.34L205.16 342.55L204.20 343.50L205.16 344.45L203.95 345.66L203.00 344.70L202.05 345.66L200.84 344.45L201.80 343.50L200.84 342.55L202.05 341.34L203.00 342.30Z" fill="#88d869"/>
<path d="M208.05 341.34L209.26 342.55L208.30 343.50L209.26 344.45L208.05 345.66L207.10 344.70L206.15 345.66L204.94 344.45L205.90 343.50L204.94 342.55L206.15 341.34L207.10 342.30Z" fill="#8ed963"/>
<path d="M208.65 346.04L209.86 347.25L208.90 348.20L209.86 349.15L208.65 350.36L207.70 349.40L206.75 350.36L205.54 349.15L206.50 348.20L205.54 347.25L206.75 346.04L207.70 347.00Z" fill="#8fd963"/>
<path d="M198.25 346.44L199.46 347.65L198.50 348.60L199.46 349.55L198.25 350.76L197.30 349.80L196.35 350.76L195.14 349.55L196.10 348.60L195.14 347.65L196.35 346.44L197.30 347.40Z" fill="#81d674"/>
<path d="M199.45 342.84L200.66 344.05L199.70 345.00L200.66 345.95L199.45 347.16L198.50 346.20L197.55 347.16L196.34 345.95L197.30 345.00L196.34 344.05L197.55 342.84L198.50 343.80Z" fill="#83d671"/>
<path d="M203.55 347.54L204.76 348.75L203.80 349.70L204.76 350.65L203.55 351.86L202.60 350.90L201.65 351.86L200.44 350.65L201.40 349.70L200.44 348.75L201.65 347.54L202.60 348.50Z" fill="#87d869"/>
<path d="M204.15 344.34L205.36 345.55L204.40 346.50L205.36 347.45L204.15 348.66L203.20 347.70L202.25 348.66L201.04 347.45L202.00 346.50L201.04 345.55L202.25 344.34L203.20 345.30Z" fill="#88d868"/>
<path d="M205.25 352.24L206.46 353.45L205.50 354.40L206.46 355.35L205.25 356.56L204.30 355.60L203.35 356.56L202.14 355.35L203.10 354.40L202.14 353.45L203.35 352.24L204.30 353.20Z" fill="#89d867"/>
<path d="M208.85 342.84L210.06 344.05L209.10 345.00L210.06 345.95L208.85 347.16L207.90 346.20L206.95 347.16L205.74 345.95L206.70 345.00L205.74 344.05L206.95 342.84L207.90 343.80Z" fill="#8fd963"/>
<path d="M209.95 346.44L211.16 347.65L210.20 348.60L211.16 349.55L209.95 350.76L209.00 349.80L208.05 350.76L206.84 349.55L207.80 348.60L206.84 347.65L208.05 346.44L209.00 347.40Z" fill="#91d961"/>
<path d="M211.15 339.34L212.36 340.55L211.40 341.50L212.36 342.45L211.15 343.66L210.20 342.70L209.25 343.66L208.04 342.45L209.00 341.50L208.04 340.55L209.25 339.34L210.20 340.30Z" fill="#92d960"/>
<path d="M213.45 344.04L214.66 345.25L213.70 346.20L214.66 347.15L213.45 348.36L212.50 347.40L211.55 348.36L210.34 347.15L211.30 346.20L210.34 345.25L211.55 344.04L212.50 345.00Z" fill="#96d95d"/>
<path d="M213.45 355.74L214.66 356.95L213.70 357.90L214.66 358.85L213.45 360.06L212.50 359.10L211.55 360.06L210.34 358.85L211.30 357.90L210.34 356.95L211.55 355.74L212.50 356.70Z" fill="#96d95d"/>
<path d="M217.55 331.24L218.76 332.45L217.80 333.40L218.76 334.35L217.55 335.56L216.60 334.60L215.65 335.56L214.44 334.35L215.40 333.40L214.44 332.45L215.65 331.24L216.60 332.20Z" fill="#9cda58"/>
<path d="M218.75 335.84L219.96 337.05L219.00 338.00L219.96 338.95L218.75 340.16L217.80 339.20L216.85 340.16L215.64 338.95L216.60 338.00L215.64 337.05L216.85 335.84L217.80 336.80Z" fill="#9eda57"/>
<path d="M219.35 354.54L220.56 355.75L219.60 356.70L220.56 357.65L219.35 358.86L218.40 357.90L217.45 358.86L216.24 357.65L217.20 356.70L216.24 355.75L217.45 354.54L218.40 355.50Z" fill="#9fda56"/>
<path d="M220.45 344.64L221.66 345.85L220.70 346.80L221.66 347.75L220.45 348.96L219.50 348.00L218.55 348.96L217.34 347.75L218.30 346.80L217.34 345.85L218.55 344.64L219.50 345.60Z" fill="#a0da55"/>
<path d="M224.55 344.64L225.76 345.85L224.80 346.80L225.76 347.75L224.55 348.96L223.60 348.00L222.65 348.96L221.44 347.75L222.40 346.80L221.44 345.85L222.65 344.64L223.60 345.60Z" fill="#a6db50"/>
<path d="M225.75 336.44L226.96 337.65L226.00 338.60L226.96 339.55L225.75 340.76L224.80 339.80L223.85 340.76L222.64 339.55L223.60 338.60L222.64 337.65L223.85 336.44L224.80 337.40Z" fill="#a8db4e"/>
<path d="M227.45 329.44L228.66 330.65L227.70 331.60L228.66 332.55L227.45 333.76L226.50 332.80L225.55 333.76L224.34 332.55L225.30 331.60L224.34 330.65L225.55 329.44L226.50 330.40Z" fill="#abdb4c"/>
<path d="M229.85 328.84L231.06 330.05L230.10 331.00L231.06 331.95L229.85 333.16L228.90 332.20L227.95 333.16L226.74 331.95L227.70 331.00L226.74 330.05L227.95 328.84L228.90 329.80Z" fill="#aedc49"/>
<path d="M231.55 344.04L232.76 345.25L231.80 346.20L232.76 347.15L231.55 348.36L230.60 347.40L229.65 348.36L228.44 347.15L229.40 346.20L228.44 345.25L229.65 344.04L230.60 345.00Z" fill="#b1dc48"/>
<path d="M233.95 339.34L235.16 340.55L234.20 341.50L235.16 342.45L233.95 343.66L233.00 342.70L232.05 343.66L230.84 342.45L231.80 341.50L230.84 340.55L232.05 339.34L233.00 340.30Z" fill="#b3dc47"/>
<path d="M233.95 327.14L235.16 328.35L234.20 329.30L235.16 330.25L233.95 331.46L233.00 330.50L232.05 331.46L230.84 330.25L231.80 329.30L230.84 328.35L232.05 327.14L233.00 328.10Z" fill="#b3dc47"/>
<path d="M236.25 323.04L237.46 324.25L236.50 325.20L237.46 326.15L236.25 327.36L235.30 326.40L234.35 327.36L233.14 326.15L234.10 325.20L233.14 324.25L234.35 323.04L235.30 324.00Z" fill="#b6dc47"/>
<path d="M239.75 330.04L240.96 331.25L240.00 332.20L240.96 333.15L239.75 334.36L238.80 333.40L237.85 334.36L236.64 333.15L237.60 332.20L236.64 331.25L237.85 330.04L238.80 331.00Z" fill="#badc46"/>
<path d="M240.35 332.94L241.56 334.15L240.60 335.10L241.56 336.05L240.35 337.26L239.40 336.30L238.45 337.26L237.24 336.05L238.20 335.10L237.24 334.15L238.45 332.94L239.40 333.90Z" fill="#badc46"/>
<path d="M241.55 324.74L242.76 325.95L241.80 326.90L242.76 327.85L241.55 329.06L240.60 328.10L239.65 329.06L238.44 327.85L239.40 326.90L238.44 325.95L239.65 324.74L240.60 325.70Z" fill="#bcdc46"/>
<path d="M243.85 323.64L245.06 324.85L244.10 325.80L245.06 326.75L243.85 327.96L242.90 327.00L241.95 327.96L240.74 326.75L241.70 325.80L240.74 324.85L241.95 323.64L242.90 324.60Z" fill="#bfdc45"/>
<path d="M243.85 336.44L245.06 337.65L244.10 338.60L245.06 339.55L243.85 340.76L242.90 339.80L241.95 340.76L240.74 339.55L241.70 338.60L240.74 337.65L241.95 336.44L242.90 337.40Z" fill="#bfdc45"/>
<path d="M246.75 339.34L247.96 340.55L247.00 341.50L247.96 342.45L246.75 343.66L245.80 342.70L244.85 343.66L243.64 342.45L244.60 341.50L243.64 340.55L244.85 339.34L245.80 340.30Z" fill="#c3dc44"/>
<path d="M247.35 320.74L248.56 321.95L247.60 322.90L248.56 323.85L247.35 325.06L246.40 324.10L245.45 325.06L244.24 323.85L245.20 322.90L244.24 321.95L245.45 320.74L246.40 321.70Z" fill="#c4dc44"/>
<path d="M248.55 323.04L249.76 324.25L248.80 325.20L249.76 326.15L248.55 327.36L247.60 326.40L246.65 327.36L245.44 326.15L246.40 325.20L245.44 324.25L246.65 323.04L247.60 324.00Z" fill="#c6dc44"/>
<path d="M247.35 315.44L248.56 316.65L247.60 317.60L248.56 318.55L247.35 319.76L246.40 318.80L245.45 319.76L244.24 318.55L245.20 317.60L244.24 316.65L245.45 315.44L246.40 316.40Z" fill="#c4dc44"/>
<path d="M250.85 314.84L252.06 316.05L251.10 317.00L252.06 317.95L250.85 319.16L249.90 318.20L248.95 319.16L247.74 317.95L248.70 317.00L247.74 316.05L248.95 314.84L249.90 315.80Z" fill="#c9dc43"/>
<path d="M253.15 313.14L254.36 314.35L253.40 315.30L254.36 316.25L253.15 317.46L252.20 316.50L251.25 317.46L250.04 316.25L251.00 315.30L250.04 314.35L251.25 313.14L252.20 314.10Z" fill="#cddc42"/>
<path d="M254.35 316.64L255.56 317.85L254.60 318.80L255.56 319.75L254.35 320.96L253.40 320.00L252.45 320.96L251.24 319.75L252.20 318.80L251.24 317.85L252.45 316.64L253.40 317.60Z" fill="#cedc42"/>
<path d="M253.75 330.64L254.96 331.85L254.00 332.80L254.96 333.75L253.75 334.96L252.80 334.00L251.85 334.96L250.64 333.75L251.60 332.80L250.64 331.85L251.85 330.64L252.80 331.60Z" fill="#cedc42"/>
<path d="M258.45 319.54L259.66 320.75L258.70 321.70L259.66 322.65L258.45 323.86L257.50 322.90L256.55 323.86L255.34 322.65L256.30 321.70L255.34 320.75L256.55 319.54L257.50 320.50Z" fill="#d6dc40"/>
<path d="M264.45 305.44L265.66 306.65L264.70 307.60L265.66 308.55L264.45 309.76L263.50 308.80L262.55 309.76L261.34 308.55L262.30 307.60L261.34 306.65L262.55 305.44L263.50 306.40Z" fill="#dad840"/>
<path d="M268.75 294.84L269.96 296.05L269.00 297.00L269.96 297.95L268.75 299.16L267.80 298.20L266.85 299.16L265.64 297.95L266.60 297.00L265.64 296.05L266.85 294.84L267.80 295.80Z" fill="#ded240"/>
<path d="M276.05 289.84L277.26 291.05L276.30 292.00L277.26 292.95L276.05 294.16L275.10 293.20L274.15 294.16L272.94 292.95L273.90 292.00L272.94 291.05L274.15 289.84L275.10 290.80Z" fill="#e5a540"/>
<path d="M280.95 298.14L282.16 299.35L281.20 300.30L282.16 301.25L280.95 302.46L280.00 301.50L279.05 302.46L277.84 301.25L278.80 300.30L277.84 299.35L279.05 298.14L280.00 299.10Z" fill="#e79c40"/>
<path d="M283.45 301.54L284.66 302.75L283.70 303.70L284.66 304.65L283.45 305.86L282.50 304.90L281.55 305.86L280.34 304.65L281.30 303.70L280.34 302.75L281.55 301.54L282.50 302.50Z" fill="#e79740"/>
<path d="M291.45 288.04L292.66 289.25L291.70 290.20L292.66 291.15L291.45 292.36L290.50 291.40L289.55 292.36L288.34 291.15L289.30 290.20L288.34 289.25L289.55 288.04L290.50 289.00Z" fill="#e8893f"/>
<path d="M294.15 301.94L295.36 303.15L294.40 304.10L295.36 305.05L294.15 306.26L293.20 305.30L292.25 306.26L291.04 305.05L292.00 304.10L291.04 303.15L292.25 301.94L293.20 302.90Z" fill="#e8843f"/>
<path d="M322.05 262.94L323.26 264.15L322.30 265.10L323.26 266.05L322.05 267.26L321.10 266.30L320.15 267.26L318.94 266.05L319.90 265.10L318.94 264.15L320.15 262.94L321.10 263.90Z" fill="#e83030"/>
<path d="M189.55 343.64L190.76 344.85L189.80 345.80L190.76 346.75L189.55 347.96L188.60 347.00L187.65 347.96L186.44 346.75L187.40 345.80L186.44 344.85L187.65 343.64L188.60 344.60Z" fill="#75d288"/>
<path d="M194.85 341.84L196.06 343.05L195.10 344.00L196.06 344.95L194.85 346.16L193.90 345.20L192.95 346.16L191.74 344.95L192.70 344.00L191.74 343.05L192.95 341.84L193.90 342.80Z" fill="#7cd47c"/>
<path d="M199.65 341.24L200.86 342.45L199.90 343.40L200.86 344.35L199.65 345.56L198.70 344.60L197.75 345.56L196.54 344.35L197.50 343.40L196.54 342.45L197.75 341.24L198.70 342.20Z" fill="#83d671"/>
<path d="M196.05 346.84L197.26 348.05L196.30 349.00L197.26 349.95L196.05 351.16L195.10 350.20L194.15 351.16L192.94 349.95L193.90 349.00L192.94 348.05L194.15 346.84L195.10 347.80Z" fill="#7ed579"/>
<path d="M203.85 341.24L205.06 342.45L204.10 343.40L205.06 344.35L203.85 345.56L202.90 344.60L201.95 345.56L200.74 344.35L201.70 343.40L200.74 342.45L201.95 341.24L202.90 342.20Z" fill="#88d869"/>
<path d="M187.15 351.04L188.36 352.25L187.40 353.20L188.36 354.15L187.15 355.36L186.20 354.40L185.25 355.36L184.04 354.15L185.00 353.20L184.04 352.25L185.25 351.04L186.20 352.00Z" fill="#72d18d"/>
<path d="M197.25 352.84L198.46 354.05L197.50 355.00L198.46 355.95L197.25 357.16L196.30 356.20L195.35 357.16L194.14 355.95L195.10 355.00L194.14 354.05L195.35 352.84L196.30 353.80Z" fill="#7fd576"/>
<path d="M203.25 348.64L204.46 349.85L203.50 350.80L204.46 351.75L203.25 352.96L202.30 352.00L201.35 352.96L200.14 351.75L201.10 350.80L200.14 349.85L201.35 348.64L202.30 349.60Z" fill="#87d86a"/>
<path d="M204.95 352.24L206.16 353.45L205.20 354.40L206.16 355.35L204.95 356.56L204.00 355.60L203.05 356.56L201.84 355.35L202.80 354.40L201.84 353.45L203.05 352.24L204.00 353.20Z" fill="#89d867"/>
<path d="M200.85 356.44L202.06 357.65L201.10 358.60L202.06 359.55L200.85 360.76L199.90 359.80L198.95 360.76L197.74 359.55L198.70 358.60L197.74 357.65L198.95 356.44L199.90 357.40Z" fill="#84d76e"/>
<path d="M204.95 357.04L206.16 358.25L205.20 359.20L206.16 360.15L204.95 361.36L204.00 360.40L203.05 361.36L201.84 360.15L202.80 359.20L201.84 358.25L203.05 357.04L204.00 358.00Z" fill="#89d867"/>
<path d="M210.95 338.54L212.16 339.75L211.20 340.70L212.16 341.65L210.95 342.86L210.00 341.90L209.05 342.86L207.84 341.65L208.80 340.70L207.84 339.75L209.05 338.54L210.00 339.50Z" fill="#92d960"/>
<path d="M208.55 345.14L209.76 346.35L208.80 347.30L209.76 348.25L208.55 349.46L207.60 348.50L206.65 349.46L205.44 348.25L206.40 347.30L205.44 346.35L206.65 345.14L207.60 346.10Z" fill="#8ed963"/>
<path d="M210.95 347.44L212.16 348.65L211.20 349.60L212.16 350.55L210.95 351.76L210.00 350.80L209.05 351.76L207.84 350.55L208.80 349.60L207.84 348.65L209.05 347.44L210.00 348.40Z" fill="#92d960"/>
<path d="M214.55 345.74L215.76 346.95L214.80 347.90L215.76 348.85L214.55 350.06L213.60 349.10L212.65 350.06L211.44 348.85L212.40 347.90L211.44 346.95L212.65 345.74L213.60 346.70Z" fill="#97da5c"/>
<path d="M213.95 342.14L215.16 343.35L214.20 344.30L215.16 345.25L213.95 346.46L213.00 345.50L212.05 346.46L210.84 345.25L211.80 344.30L210.84 343.35L212.05 342.14L213.00 343.10Z" fill="#96d95c"/>
<path d="M215.75 342.74L216.96 343.95L216.00 344.90L216.96 345.85L215.75 347.06L214.80 346.10L213.85 347.06L212.64 345.85L213.60 344.90L212.64 343.95L213.85 342.74L214.80 343.70Z" fill="#99da5a"/>
<path d="M218.05 331.44L219.26 332.65L218.30 333.60L219.26 334.55L218.05 335.76L217.10 334.80L216.15 335.76L214.94 334.55L215.90 333.60L214.94 332.65L216.15 331.44L217.10 332.40Z" fill="#9dda57"/>
<path d="M219.25 334.34L220.46 335.55L219.50 336.50L220.46 337.45L219.25 338.66L218.30 337.70L217.35 338.66L216.14 337.45L217.10 336.50L216.14 335.55L217.35 334.34L218.30 335.30Z" fill="#9eda56"/>
<path d="M218.35 337.94L219.56 339.15L218.60 340.10L219.56 341.05L218.35 342.26L217.40 341.30L216.45 342.26L215.24 341.05L216.20 340.10L215.24 339.15L216.45 337.94L217.40 338.90Z" fill="#9dda57"/>
<path d="M220.45 344.54L221.66 345.75L220.70 346.70L221.66 347.65L220.45 348.86L219.50 347.90L218.55 348.86L217.34 347.65L218.30 346.70L217.34 345.75L218.55 344.54L219.50 345.50Z" fill="#a0da55"/>
<path d="M218.65 354.04L219.86 355.25L218.90 356.20L219.86 357.15L218.65 358.36L217.70 357.40L216.75 358.36L215.54 357.15L216.50 356.20L215.54 355.25L216.75 354.04L217.70 355.00Z" fill="#9eda57"/>
<path d="M213.35 355.84L214.56 357.05L213.60 358.00L214.56 358.95L213.35 360.16L212.40 359.20L211.45 360.16L210.24 358.95L211.20 358.00L210.24 357.05L211.45 355.84L212.40 356.80Z" fill="#96d95d"/>
<path d="M224.65 336.14L225.86 337.35L224.90 338.30L225.86 339.25L224.65 340.46L223.70 339.50L222.75 340.46L221.54 339.25L222.50 338.30L221.54 337.35L222.75 336.14L223.70 337.10Z" fill="#a7db50"/>
<path d="M224.65 344.54L225.86 345.75L224.90 346.70L225.86 347.65L224.65 348.86L223.70 347.90L222.75 348.86L221.54 347.65L222.50 346.70L221.54 345.75L222.75 344.54L223.70 345.50Z" fill="#a7db50"/>
<path d="M209.45 341.34L210.66 342.55L209.70 343.50L210.66 344.45L209.45 345.66L208.50 344.70L207.55 345.66L206.34 344.45L207.30 343.50L206.34 342.55L207.55 341.34L208.50 342.30Z" fill="#90d962"/>
<path d="M212.45 340.34L213.66 341.55L212.70 342.50L213.66 343.45L212.45 344.66L211.50 343.70L210.55 344.66L209.34 343.45L210.30 342.50L209.34 341.55L210.55 340.34L211.50 341.30Z" fill="#94d95e"/>
<path d="M215.45 348.34L216.66 349.55L215.70 350.50L216.66 351.45L215.45 352.66L214.50 351.70L213.55 352.66L212.34 351.45L213.30 350.50L212.34 349.55L213.55 348.34L214.50 349.30Z" fill="#99da5b"/>
<path d="M208.45 348.34L209.66 349.55L208.70 350.50L209.66 351.45L208.45 352.66L207.50 351.70L206.55 352.66L205.34 351.45L206.30 350.50L205.34 349.55L206.55 348.34L207.50 349.30Z" fill="#8ed963"/>
<path d="M211.95 349.34L213.16 350.55L212.20 351.50L213.16 352.45L211.95 353.66L211.00 352.70L210.05 353.66L208.84 352.45L209.80 351.50L208.84 350.55L210.05 349.34L211.00 350.30Z" fill="#94d95f"/>
<path d="M429.8 366.3L427.1 367.8L429.8 369.3Z" fill="#4e5ec8"/>
<path d="M429.8 376.5L427.1 378.0L429.8 379.5Z" fill="#4e5ec8"/>
<path d="M424.0 379.0L421.3 380.5L424.0 382.0Z" fill="#4e5ec8"/>
<path d="M424.0 382.3L421.3 383.8L424.0 385.3Z" fill="#4e5ec8"/>
<path d="M434.9 380.7L432.2 382.2L434.9 383.7Z" fill="#4e5ec8"/>
<path d="M440.4 387.2L437.7 388.7L440.4 390.2Z" fill="#4e5ec8"/>
<path d="M444.0 384.2L441.3 385.7L444.0 387.2Z" fill="#4e5ec8"/>
<path d="M447.3 375.8L444.6 377.3L447.3 378.8Z" fill="#4e5ec8"/>
<path d="M448.8 366.6L446.1 368.1L448.8 369.6Z" fill="#4e5ec8"/>
<path d="M448.8 370.7L446.1 372.2L448.8 373.7Z" fill="#4e5ec8"/>
<path d="M451.3 360.8L448.6 362.3L451.3 363.8Z" fill="#4e5ec8"/>
<path d="M448.4 384.2L445.7 385.7L448.4 387.2Z" fill="#4e5ec8"/>
<path d="M450.3 387.8L447.6 389.3L450.3 390.8Z" fill="#4e5ec8"/>
<path d="M455.7 378.3L453.0 379.8L455.7 381.3Z" fill="#4e5ec8"/>
<path d="M457.2 371.0L454.5 372.5L457.2 374.0Z" fill="#4e5ec8"/>
<path d="M458.3 376.9L455.6 378.4L458.3 379.9Z" fill="#4e5ec8"/>
<path d="M458.6 372.8L455.9 374.3L458.6 375.8Z" fill="#4e5ec8"/>
<path d="M460.5 373.2L457.8 374.7L460.5 376.2Z" fill="#4e5ec8"/>
<path d="M458.3 383.4L455.6 384.9L458.3 386.4Z" fill="#4e5ec8"/>
<path d="M458.3 386.7L455.6 388.2L458.3 389.7Z" fill="#4e5ec8"/>
<path d="M461.2 359.3L458.5 360.8L461.2 362.3Z" fill="#4e5ec8"/>
<path d="M464.8 359.7L462.1 361.2L464.8 362.7Z" fill="#4e5ec8"/>
<path d="M459.4 364.1L456.7 365.6L459.4 367.1Z" fill="#4e5ec8"/>
<path d="M461.6 364.5L458.9 366.0L461.6 367.5Z" fill="#4e5ec8"/>
<path d="M463.4 364.1L460.7 365.6L463.4 367.1Z" fill="#4e5ec8"/>
<path d="M465.6 364.1L462.9 365.6L465.6 367.1Z" fill="#4e5ec8"/>
<path d="M463.0 376.9L460.3 378.4L463.0 379.9Z" fill="#4e5ec8"/>
<path d="M424.0 392.0L421.3 393.5L424.0 395.0Z" fill="#4e5ec8"/>
<path d="M424.0 395.6L421.3 397.1L424.0 398.6Z" fill="#4e5ec8"/>
<path d="M424.0 408.4L421.3 409.9L424.0 411.4Z" fill="#4e5ec8"/>
<path d="M424.0 417.9L421.3 419.4L424.0 420.9Z" fill="#4e5ec8"/>
<path d="M429.8 417.2L427.1 418.7L429.8 420.2Z" fill="#4e5ec8"/>
<path d="M444.0 391.2L441.3 392.7L444.0 394.2Z" fill="#4e5ec8"/>
<path d="M448.1 391.6L445.4 393.1L448.1 394.6Z" fill="#4e5ec8"/>
<path d="M450.2 388.3L447.5 389.8L450.2 391.3Z" fill="#4e5ec8"/>
<path d="M444.0 397.1L441.3 398.6L444.0 400.1Z" fill="#4e5ec8"/>
<path d="M448.4 404.0L445.7 405.5L448.4 407.0Z" fill="#4e5ec8"/>
<path d="M452.8 402.9L450.1 404.4L452.8 405.9Z" fill="#4e5ec8"/>
<path d="M444.0 407.7L441.3 409.2L444.0 410.7Z" fill="#4e5ec8"/>
<path d="M447.7 411.3L445.0 412.8L447.7 414.3Z" fill="#4e5ec8"/>
<path d="M444.0 414.2L441.3 415.7L444.0 417.2Z" fill="#4e5ec8"/>
<path d="M448.8 415.0L446.1 416.5L448.8 418.0Z" fill="#4e5ec8"/>
<path d="M458.3 387.2L455.6 388.7L458.3 390.2Z" fill="#4e5ec8"/>
<path d="M459.4 391.2L456.7 392.7L459.4 394.2Z" fill="#4e5ec8"/>
<path d="M461.2 392.7L458.5 394.2L461.2 395.7Z" fill="#4e5ec8"/>
<path d="M458.3 393.8L455.6 395.3L458.3 396.8Z" fill="#4e5ec8"/>
<path d="M459.4 397.5L456.7 399.0L459.4 400.5Z" fill="#4e5ec8"/>
<path d="M460.1 398.5L457.4 400.0L460.1 401.5Z" fill="#4e5ec8"/>
<path d="M458.3 400.4L455.6 401.9L458.3 403.4Z" fill="#4e5ec8"/>
<path d="M458.3 404.7L455.6 406.2L458.3 407.7Z" fill="#4e5ec8"/>
<path d="M458.3 408.8L455.6 410.3L458.3 411.8Z" fill="#4e5ec8"/>
<path d="M460.1 412.0L457.4 413.5L460.1 415.0Z" fill="#4e5ec8"/>
<path d="M458.3 414.6L455.6 416.1L458.3 417.6Z" fill="#4e5ec8"/>
<path d="M496.1 343.0L493.4 344.5L496.1 346.0Z" fill="#4e5ec8"/>
<path d="M499.8 344.5L497.1 346.0L499.8 347.5Z" fill="#4e5ec8"/>
<path d="M501.3 343.0L498.6 344.5L501.3 346.0Z" fill="#4e5ec8"/>
<path d="M503.1 343.7L500.4 345.2L503.1 346.7Z" fill="#4e5ec8"/>
<path d="M498.3 347.4L495.6 348.9L498.3 350.4Z" fill="#4e5ec8"/>
<path d="M501.3 346.6L498.6 348.1L501.3 349.6Z" fill="#4e5ec8"/>
<path d="M504.2 346.3L501.5 347.8L504.2 349.3Z" fill="#4e5ec8"/>
<path d="M506.4 345.5L503.7 347.0L506.4 348.5Z" fill="#4e5ec8"/>
<path d="M508.6 345.2L505.9 346.7L508.6 348.2Z" fill="#4e5ec8"/>
<path d="M510.7 345.2L508.0 346.7L510.7 348.2Z" fill="#4e5ec8"/>
<path d="M512.9 345.5L510.2 347.0L512.9 348.5Z" fill="#4e5ec8"/>
<path d="M505.6 341.5L502.9 343.0L505.6 344.5Z" fill="#4e5ec8"/>
<path d="M507.8 341.2L505.1 342.7L507.8 344.2Z" fill="#4e5ec8"/>
<path d="M510.0 340.8L507.3 342.3L510.0 343.8Z" fill="#4e5ec8"/>
<path d="M511.8 339.7L509.1 341.2L511.8 342.7Z" fill="#4e5ec8"/>
<path d="M496.1 348.8L493.4 350.3L496.1 351.8Z" fill="#4e5ec8"/>
<path d="M495.4 353.2L492.7 354.7L495.4 356.2Z" fill="#4e5ec8"/>
<path d="M502.7 351.7L500.0 353.2L502.7 354.7Z" fill="#4e5ec8"/>
<path d="M504.2 353.2L501.5 354.7L504.2 356.2Z" fill="#4e5ec8"/>
<path d="M507.1 351.0L504.4 352.5L507.1 354.0Z" fill="#4e5ec8"/>
<path d="M492.5 348.8L489.8 350.3L492.5 351.8Z" fill="#4e5ec8"/>
<path d="M486.7 349.2L484.0 350.7L486.7 352.2Z" fill="#4e5ec8"/>
<path d="M488.5 348.8L485.8 350.3L488.5 351.8Z" fill="#4e5ec8"/>
<path d="M488.1 352.8L485.4 354.3L488.1 355.8Z" fill="#4e5ec8"/>
<path d="M473.2 350.3L470.5 351.8L473.2 353.3Z" fill="#4e5ec8"/>
<path d="M477.2 349.6L474.5 351.1L477.2 352.6Z" fill="#4e5ec8"/>
<path d="M467.3 355.4L464.6 356.9L467.3 358.4Z" fill="#4e5ec8"/>
<path d="M475.0 355.4L472.3 356.9L475.0 358.4Z" fill="#4e5ec8"/>
<path d="M477.9 355.8L475.2 357.3L477.9 358.8Z" fill="#4e5ec8"/>
<path d="M482.3 354.7L479.6 356.2L482.3 357.7Z" fill="#4e5ec8"/>
<path d="M482.6 356.9L479.9 358.4L482.6 359.9Z" fill="#4e5ec8"/>
<path d="M487.4 356.1L484.7 357.6L487.4 359.1Z" fill="#4e5ec8"/>
<path d="M464.8 359.4L462.1 360.9L464.8 362.4Z" fill="#4e5ec8"/>
<path d="M470.6 359.8L467.9 361.3L470.6 362.8Z" fill="#4e5ec8"/>
<path d="M472.8 359.4L470.1 360.9L472.8 362.4Z" fill="#4e5ec8"/>
<path d="M475.0 359.0L472.3 360.5L475.0 362.0Z" fill="#4e5ec8"/>
<path d="M477.2 358.7L474.5 360.2L477.2 361.7Z" fill="#4e5ec8"/>
<path d="M481.5 359.4L478.8 360.9L481.5 362.4Z" fill="#4e5ec8"/>
<path d="M485.2 360.9L482.5 362.4L485.2 363.9Z" fill="#4e5ec8"/>
<path d="M488.5 358.7L485.8 360.2L488.5 361.7Z" fill="#4e5ec8"/>
<path d="M491.0 358.0L488.3 359.5L491.0 361.0Z" fill="#4e5ec8"/>
<path d="M464.8 363.4L462.1 364.9L464.8 366.4Z" fill="#4e5ec8"/>
<path d="M470.6 363.4L467.9 364.9L470.6 366.4Z" fill="#4e5ec8"/>
<path d="M475.0 362.7L472.3 364.2L475.0 365.7Z" fill="#4e5ec8"/>
<path d="M477.2 362.0L474.5 363.5L477.2 365.0Z" fill="#4e5ec8"/>
<path d="M480.1 363.4L477.4 364.9L480.1 366.4Z" fill="#4e5ec8"/>
<path d="M483.0 362.7L480.3 364.2L483.0 365.7Z" fill="#4e5ec8"/>
<path d="M485.2 363.4L482.5 364.9L485.2 366.4Z" fill="#4e5ec8"/>
<path d="M466.9 366.3L464.2 367.8L466.9 369.3Z" fill="#4e5ec8"/>
<path d="M475.0 366.0L472.3 367.5L475.0 369.0Z" fill="#4e5ec8"/>
<path d="M480.8 366.3L478.1 367.8L480.8 369.3Z" fill="#4e5ec8"/>
<path d="M488.8 365.6L486.1 367.1L488.8 368.6Z" fill="#4e5ec8"/>
<path d="M494.0 359.0L491.3 360.5L494.0 362.0Z" fill="#4e5ec8"/>
<path d="M494.7 363.4L492.0 364.9L494.7 366.4Z" fill="#4e5ec8"/>
<path d="M498.3 359.0L495.6 360.5L498.3 362.0Z" fill="#4e5ec8"/>
<path d="M499.8 361.2L497.1 362.7L499.8 364.2Z" fill="#4e5ec8"/>
<path d="M502.0 362.0L499.3 363.5L502.0 365.0Z" fill="#4e5ec8"/>
<path d="M504.2 357.6L501.5 359.1L504.2 360.6Z" fill="#4e5ec8"/>
<path d="M505.6 359.0L502.9 360.5L505.6 362.0Z" fill="#4e5ec8"/>
<path d="M508.6 355.4L505.9 356.9L508.6 358.4Z" fill="#4e5ec8"/>
<path d="M510.0 358.3L507.3 359.8L510.0 361.3Z" fill="#4e5ec8"/>
<path d="M511.5 354.7L508.8 356.2L511.5 357.7Z" fill="#4e5ec8"/>
<path d="M507.1 363.4L504.4 364.9L507.1 366.4Z" fill="#4e5ec8"/>
<path d="M504.2 365.6L501.5 367.1L504.2 368.6Z" fill="#4e5ec8"/>
<path d="M510.7 364.2L508.0 365.7L510.7 367.2Z" fill="#4e5ec8"/>
<path d="M508.6 367.1L505.9 368.6L508.6 370.1Z" fill="#4e5ec8"/>
<path d="M497.8 345.0L495.1 346.5L497.8 348.0Z" fill="#4e5ec8"/>
<path d="M504.8 344.0L502.1 345.5L504.8 347.0Z" fill="#4e5ec8"/>
<path d="M500.3 341.3L497.6 342.8L500.3 344.3Z" fill="#4e5ec8"/>
<path d="M511.3 343.0L508.6 344.5L511.3 346.0Z" fill="#4e5ec8"/>
<path d="M493.8 346.0L491.1 347.5L493.8 349.0Z" fill="#4e5ec8"/>
<path d="M467.3 367.0L464.6 368.5L467.3 370.0Z" fill="#4e5ec8"/>
<path d="M469.2 371.9L466.5 373.4L469.2 374.9Z" fill="#4e5ec8"/>
<path d="M470.7 374.9L468.0 376.4L470.7 377.9Z" fill="#4e5ec8"/>
<path d="M467.8 377.4L465.1 378.9L467.8 380.4Z" fill="#4e5ec8"/>
<path d="M467.8 382.3L465.1 383.8L467.8 385.3Z" fill="#4e5ec8"/>
<path d="M470.2 383.3L467.5 384.8L470.2 386.3Z" fill="#4e5ec8"/>
<path d="M475.2 369.5L472.5 371.0L475.2 372.5Z" fill="#4e5ec8"/>
<path d="M478.2 368.5L475.5 370.0L478.2 371.5Z" fill="#4e5ec8"/>
<path d="M481.1 367.5L478.4 369.0L481.1 370.5Z" fill="#4e5ec8"/>
<path d="M476.2 378.9L473.5 380.4L476.2 381.9Z" fill="#4e5ec8"/>
<path d="M477.7 384.3L475.0 385.8L477.7 387.3Z" fill="#4e5ec8"/>
<path d="M481.1 372.9L478.4 374.4L481.1 375.9Z" fill="#4e5ec8"/>
<path d="M483.1 376.4L480.4 377.9L483.1 379.4Z" fill="#4e5ec8"/>
<path d="M484.1 369.5L481.4 371.0L484.1 372.5Z" fill="#4e5ec8"/>
<path d="M483.6 382.3L480.9 383.8L483.6 385.3Z" fill="#4e5ec8"/>
<path d="M484.6 383.8L481.9 385.3L484.6 386.8Z" fill="#4e5ec8"/>
<path d="M486.6 374.4L483.9 375.9L486.6 377.4Z" fill="#4e5ec8"/>
<path d="M488.5 368.5L485.8 370.0L488.5 371.5Z" fill="#4e5ec8"/>
<path d="M489.5 372.4L486.8 373.9L489.5 375.4Z" fill="#4e5ec8"/>
<path d="M492.0 373.4L489.3 374.9L492.0 376.4Z" fill="#4e5ec8"/>
<path d="M494.0 373.4L491.3 374.9L494.0 376.4Z" fill="#4e5ec8"/>
<path d="M496.0 373.9L493.3 375.4L496.0 376.9Z" fill="#4e5ec8"/>
<path d="M499.9 374.4L497.2 375.9L499.9 377.4Z" fill="#4e5ec8"/>
<path d="M500.4 376.4L497.7 377.9L500.4 379.4Z" fill="#4e5ec8"/>
<path d="M494.0 382.8L491.3 384.3L494.0 385.8Z" fill="#4e5ec8"/>
<path d="M499.9 383.3L497.2 384.8L499.9 386.3Z" fill="#4e5ec8"/>
<path d="M504.4 381.4L501.7 382.9L504.4 384.4Z" fill="#4e5ec8"/>
<path d="M504.4 382.8L501.7 384.3L504.4 385.8Z" fill="#4e5ec8"/>
<path d="M506.9 371.9L504.2 373.4L506.9 374.9Z" fill="#4e5ec8"/>
<path d="M509.3 373.9L506.6 375.4L509.3 376.9Z" fill="#4e5ec8"/>
<path d="M482.1 390.3L479.4 391.8L482.1 393.3Z" fill="#4e5ec8"/>
<path d="M488.5 390.8L485.8 392.3L488.5 393.8Z" fill="#4e5ec8"/>
<path d="M494.0 390.3L491.3 391.8L494.0 393.3Z" fill="#4e5ec8"/>
<path d="M503.4 390.8L500.7 392.3L503.4 393.8Z" fill="#4e5ec8"/>
<path d="M467.8 397.7L465.1 399.2L467.8 400.7Z" fill="#4e5ec8"/>
<path d="M482.1 397.2L479.4 398.7L482.1 400.2Z" fill="#4e5ec8"/>
<path d="M489.0 397.7L486.3 399.2L489.0 400.7Z" fill="#4e5ec8"/>
<path d="M500.4 397.7L497.7 399.2L500.4 400.7Z" fill="#4e5ec8"/>
<path d="M468.7 402.6L466.0 404.1L468.7 405.6Z" fill="#4e5ec8"/>
<path d="M483.6 403.1L480.9 404.6L483.6 406.1Z" fill="#4e5ec8"/>
<path d="M493.5 407.1L490.8 408.6L493.5 410.1Z" fill="#4e5ec8"/>
<path d="M486.1 411.1L483.4 412.6L486.1 414.1Z" fill="#4e5ec8"/>
<path d="M544.3 324.2L541.6 325.7L544.3 327.2Z" fill="#4e5ec8"/>
<path d="M545.8 324.2L543.1 325.7L545.8 327.2Z" fill="#4e5ec8"/>
<path d="M547.6 324.2L544.9 325.7L547.6 327.2Z" fill="#4e5ec8"/>
<path d="M556.0 323.1L553.3 324.6L556.0 326.1Z" fill="#4e5ec8"/>
<path d="M557.8 322.7L555.1 324.2L557.8 325.7Z" fill="#4e5ec8"/>
<path d="M533.4 331.5L530.7 333.0L533.4 334.5Z" fill="#4e5ec8"/>
<path d="M538.1 330.0L535.4 331.5L538.1 333.0Z" fill="#4e5ec8"/>
<path d="M545.1 329.3L542.4 330.8L545.1 332.3Z" fill="#4e5ec8"/>
<path d="M540.7 332.6L538.0 334.1L540.7 335.6Z" fill="#4e5ec8"/>
<path d="M542.5 332.2L539.8 333.7L542.5 335.2Z" fill="#4e5ec8"/>
<path d="M530.1 334.0L527.4 335.5L530.1 337.0Z" fill="#4e5ec8"/>
<path d="M536.3 334.4L533.6 335.9L536.3 337.4Z" fill="#4e5ec8"/>
<path d="M550.2 332.6L547.5 334.1L550.2 335.6Z" fill="#4e5ec8"/>
<path d="M552.4 331.1L549.7 332.6L552.4 334.1Z" fill="#4e5ec8"/>
<path d="M556.0 330.0L553.3 331.5L556.0 333.0Z" fill="#4e5ec8"/>
<path d="M555.3 335.1L552.6 336.6L555.3 338.1Z" fill="#4e5ec8"/>
<path d="M543.6 336.6L540.9 338.1L543.6 339.6Z" fill="#4e5ec8"/>
<path d="M545.8 336.6L543.1 338.1L545.8 339.6Z" fill="#4e5ec8"/>
<path d="M545.1 338.4L542.4 339.9L545.1 341.4Z" fill="#4e5ec8"/>
<path d="M551.6 338.8L548.9 340.3L551.6 341.8Z" fill="#4e5ec8"/>
<path d="M558.9 337.0L556.2 338.5L558.9 340.0Z" fill="#4e5ec8"/>
<path d="M540.0 339.2L537.3 340.7L540.0 342.2Z" fill="#4e5ec8"/>
<path d="M539.2 341.3L536.5 342.8L539.2 344.3Z" fill="#4e5ec8"/>
<path d="M530.5 337.0L527.8 338.5L530.5 340.0Z" fill="#4e5ec8"/>
<path d="M531.2 339.2L528.5 340.7L531.2 342.2Z" fill="#4e5ec8"/>
<path d="M510.8 339.9L508.1 341.4L510.8 342.9Z" fill="#4e5ec8"/>
<path d="M512.9 340.6L510.2 342.1L512.9 343.6Z" fill="#4e5ec8"/>
<path d="M516.6 339.9L513.9 341.4L516.6 342.9Z" fill="#4e5ec8"/>
<path d="M519.5 339.5L516.8 341.0L519.5 342.5Z" fill="#4e5ec8"/>
<path d="M521.7 340.3L519.0 341.8L521.7 343.3Z" fill="#4e5ec8"/>
<path d="M523.9 339.9L521.2 341.4L523.9 342.9Z" fill="#4e5ec8"/>
<path d="M526.1 339.2L523.4 340.7L526.1 342.2Z" fill="#4e5ec8"/>
<path d="M513.7 342.4L511.0 343.9L513.7 345.4Z" fill="#4e5ec8"/>
<path d="M518.1 342.1L515.4 343.6L518.1 345.1Z" fill="#4e5ec8"/>
<path d="M522.4 342.4L519.7 343.9L522.4 345.4Z" fill="#4e5ec8"/>
<path d="M529.0 338.4L526.3 339.9L529.0 341.4Z" fill="#4e5ec8"/>
<path d="M510.3 340.5L507.6 342.0L510.3 343.5Z" fill="#4e5ec8"/>
<path d="M513.3 339.5L510.6 341.0L513.3 342.5Z" fill="#4e5ec8"/>
<path d="M516.2 341.5L513.5 343.0L516.2 344.5Z" fill="#4e5ec8"/>
<path d="M519.2 340.0L516.5 341.5L519.2 343.0Z" fill="#4e5ec8"/>
<path d="M522.2 342.5L519.5 344.0L522.2 345.5Z" fill="#4e5ec8"/>
<path d="M525.1 340.5L522.4 342.0L525.1 343.5Z" fill="#4e5ec8"/>
<path d="M528.1 342.5L525.4 344.0L528.1 345.5Z" fill="#4e5ec8"/>
<path d="M531.1 341.5L528.4 343.0L531.1 344.5Z" fill="#4e5ec8"/>
<path d="M534.1 343.5L531.4 345.0L534.1 346.5Z" fill="#4e5ec8"/>
<path d="M537.0 345.4L534.3 346.9L537.0 348.4Z" fill="#4e5ec8"/>
<path d="M539.0 341.5L536.3 343.0L539.0 344.5Z" fill="#4e5ec8"/>
<path d="M510.3 345.4L507.6 346.9L510.3 348.4Z" fill="#4e5ec8"/>
<path d="M514.3 346.4L511.6 347.9L514.3 349.4Z" fill="#4e5ec8"/>
<path d="M518.2 344.4L515.5 345.9L518.2 347.4Z" fill="#4e5ec8"/>
<path d="M521.2 345.4L518.5 346.9L521.2 348.4Z" fill="#4e5ec8"/>
<path d="M525.1 344.4L522.4 345.9L525.1 347.4Z" fill="#4e5ec8"/>
<path d="M532.1 344.9L529.4 346.4L532.1 347.9Z" fill="#4e5ec8"/>
<path d="M541.0 339.0L538.3 340.5L541.0 342.0Z" fill="#4e5ec8"/>
<path d="M544.9 339.0L542.2 340.5L544.9 342.0Z" fill="#4e5ec8"/>
<path d="M551.9 339.5L549.2 341.0L551.9 342.5Z" fill="#4e5ec8"/>
<path d="M513.8 348.4L511.1 349.9L513.8 351.4Z" fill="#4e5ec8"/>
<path d="M520.7 352.4L518.0 353.9L520.7 355.4Z" fill="#4e5ec8"/>
<path d="M525.1 353.4L522.4 354.9L525.1 356.4Z" fill="#4e5ec8"/>
<path d="M528.1 352.9L525.4 354.4L528.1 355.9Z" fill="#4e5ec8"/>
<path d="M530.6 349.4L527.9 350.9L530.6 352.4Z" fill="#4e5ec8"/>
<path d="M531.6 351.9L528.9 353.4L531.6 354.9Z" fill="#4e5ec8"/>
<path d="M536.5 348.9L533.8 350.4L536.5 351.9Z" fill="#4e5ec8"/>
<path d="M537.5 343.5L534.8 345.0L537.5 346.5Z" fill="#4e5ec8"/>
<path d="M511.3 355.3L508.6 356.8L511.3 358.3Z" fill="#4e5ec8"/>
<path d="M510.3 358.3L507.6 359.8L510.3 361.3Z" fill="#4e5ec8"/>
<path d="M513.3 360.8L510.6 362.3L513.3 363.8Z" fill="#4e5ec8"/>
<path d="M517.2 360.3L514.5 361.8L517.2 363.3Z" fill="#4e5ec8"/>
<path d="M520.7 358.8L518.0 360.3L520.7 361.8Z" fill="#4e5ec8"/>
<path d="M524.2 359.8L521.5 361.3L524.2 362.8Z" fill="#4e5ec8"/>
<path d="M531.1 359.8L528.4 361.3L531.1 362.8Z" fill="#4e5ec8"/>
<path d="M534.1 357.8L531.4 359.3L534.1 360.8Z" fill="#4e5ec8"/>
<path d="M544.0 360.3L541.3 361.8L544.0 363.3Z" fill="#4e5ec8"/>
<path d="M512.8 365.2L510.1 366.7L512.8 368.2Z" fill="#4e5ec8"/>
<path d="M517.7 365.7L515.0 367.2L517.7 368.7Z" fill="#4e5ec8"/>
<path d="M535.0 365.7L532.3 367.2L535.0 368.7Z" fill="#4e5ec8"/>
<path d="M517.2 370.2L514.5 371.7L517.2 373.2Z" fill="#4e5ec8"/>
<path d="M524.6 371.2L521.9 372.7L524.6 374.2Z" fill="#4e5ec8"/>
<path d="M528.1 373.2L525.4 374.7L528.1 376.2Z" fill="#4e5ec8"/>
<path d="M517.2 373.6L514.5 375.1L517.2 376.6Z" fill="#4e5ec8"/>
<path d="M510.3 374.1L507.6 375.6L510.3 377.1Z" fill="#4e5ec8"/>
<path d="M522.7 375.6L520.0 377.1L522.7 378.6Z" fill="#4e5ec8"/>
<path d="M556.6 323.1L553.9 324.6L556.6 326.1Z" fill="#4e5ec8"/>
<path d="M559.2 321.8L556.5 323.3L559.2 324.8Z" fill="#4e5ec8"/>
<path d="M560.9 319.6L558.2 321.1L560.9 322.6Z" fill="#4e5ec8"/>
<path d="M562.7 320.9L560.0 322.4L562.7 323.9Z" fill="#4e5ec8"/>
<path d="M564.4 318.3L561.7 319.8L564.4 321.3Z" fill="#4e5ec8"/>
<path d="M566.2 318.7L563.5 320.2L566.2 321.7Z" fill="#4e5ec8"/>
<path d="M567.9 317.8L565.2 319.3L567.9 320.8Z" fill="#4e5ec8"/>
<path d="M569.7 317.4L567.0 318.9L569.7 320.4Z" fill="#4e5ec8"/>
<path d="M566.2 320.9L563.5 322.4L566.2 323.9Z" fill="#4e5ec8"/>
<path d="M568.8 320.0L566.1 321.5L568.8 323.0Z" fill="#4e5ec8"/>
<path d="M571.4 319.1L568.7 320.6L571.4 322.1Z" fill="#4e5ec8"/>
<path d="M574.1 318.3L571.4 319.8L574.1 321.3Z" fill="#4e5ec8"/>
<path d="M574.9 314.8L572.2 316.3L574.9 317.8Z" fill="#4e5ec8"/>
<path d="M576.7 313.9L574.0 315.4L576.7 316.9Z" fill="#4e5ec8"/>
<path d="M578.4 313.0L575.7 314.5L578.4 316.0Z" fill="#4e5ec8"/>
<path d="M581.1 312.1L578.4 313.6L581.1 315.1Z" fill="#4e5ec8"/>
<path d="M582.8 310.8L580.1 312.3L582.8 313.8Z" fill="#4e5ec8"/>
<path d="M584.6 309.5L581.9 311.0L584.6 312.5Z" fill="#4e5ec8"/>
<path d="M586.3 308.2L583.6 309.7L586.3 311.2Z" fill="#4e5ec8"/>
<path d="M577.6 317.4L574.9 318.9L577.6 320.4Z" fill="#4e5ec8"/>
<path d="M581.1 318.3L578.4 319.8L581.1 321.3Z" fill="#4e5ec8"/>
<path d="M575.8 319.1L573.1 320.6L575.8 322.1Z" fill="#4e5ec8"/>
<path d="M561.8 326.6L559.1 328.1L561.8 329.6Z" fill="#4e5ec8"/>
<path d="M591.1 309.5L588.4 311.0L591.1 312.5Z" fill="#4e5ec8"/>
<path d="M591.6 311.3L588.9 312.8L591.6 314.3Z" fill="#4e5ec8"/>
<path d="M589.8 314.8L587.1 316.3L589.8 317.8Z" fill="#4e5ec8"/>
<path d="M596.0 312.6L593.3 314.1L596.0 315.6Z" fill="#4e5ec8"/>
<path d="M598.1 309.1L595.4 310.6L598.1 312.1Z" fill="#4e5ec8"/>
<path d="M553.3 324.5L550.6 326.0L553.3 327.5Z" fill="#4e5ec8"/>
<path d="M550.3 326.5L547.6 328.0L550.3 329.5Z" fill="#4e5ec8"/>
<path d="M547.3 328.0L544.6 329.5L547.3 331.0Z" fill="#4e5ec8"/>
<path d="M563.3 323.0L560.6 324.5L563.3 326.0Z" fill="#4e5ec8"/>
<path d="M571.3 316.0L568.6 317.5L571.3 319.0Z" fill="#4e5ec8"/>
<path d="M579.3 311.3L576.6 312.8L579.3 314.3Z" fill="#58b8d8"/>
<path d="M586.8 310.0L584.1 311.5L586.8 313.0Z" fill="#58c0d0"/>
<path d="M584.6 314.8L581.9 316.3L584.6 317.8Z" fill="#58c8c8"/>
<path d="M601.2 307.3L598.5 308.8L601.2 310.3Z" fill="#58a8d8"/>
<path d="M527.9 339.5L525.2 341.0L527.9 342.5Z" fill="#58b8d8"/>
<path d="M602.0 295.5L599.3 297.0L602.0 298.5Z" fill="#4a4cb8"/>
<path d="M602.1 297.3L599.4 298.8L602.1 300.3Z" fill="#4a6ad0"/>
<path d="M616.0 296.0L613.3 297.5L616.0 299.0Z" fill="#4a8ad8"/>
<path d="M622.4 282.3L619.7 283.8L622.4 285.3Z" fill="#58c8d8"/>
<path d="M636.4 280.3L633.7 281.8L636.4 283.3Z" fill="#60c890"/>
<path d="M642.3 278.3L639.6 279.8L642.3 281.3Z" fill="#78d070"/>
<path d="M646.1 272.1L643.4 273.6L646.1 275.1Z" fill="#a0d840"/>
<path d="M656.3 275.0L653.6 276.5L656.3 278.0Z" fill="#d8d040"/>
<path d="M666.8 263.3L664.1 264.8L666.8 266.3Z" fill="#e83030"/>
<line x1="54.7" y1="196.3" x2="320.7" y2="18.5" stroke="#a0d070" stroke-width="0.6"/>
<line x1="400.1" y1="182.3" x2="666.6" y2="14.1" stroke="#a0d070" stroke-width="0.6"/>
<line x1="53.5" y1="432.3" x2="321" y2="284.3" stroke="#a0d070" stroke-width="0.6"/>
<line x1="400.3" y1="413.7" x2="661" y2="270.6" stroke="#a0d070" stroke-width="0.6"/>
<g font-family="Liberation Mono, monospace" fill="#6a9e52">
<text x="19.4" y="8.0" font-size="6.4" textLength="22.89" lengthAdjust="spacingAndGlyphs" xml:space="preserve">2.93256</text>
<text x="38.6" y="200.9" font-size="6.4" textLength="3.27" lengthAdjust="spacingAndGlyphs" xml:space="preserve">O</text>
<text x="53.1" y="217.9" font-size="6.4" textLength="3.27" lengthAdjust="spacingAndGlyphs" xml:space="preserve">O</text>
<text x="309.0" y="218.0" font-size="6.4" textLength="22.89" lengthAdjust="spacingAndGlyphs" xml:space="preserve">3.1O787</text>
<text x="187.7" y="211.9" font-size="6.4" textLength="62.13" lengthAdjust="spacingAndGlyphs" xml:space="preserve">Integration [HH] R3</text>
<text x="44.2" y="123.9" font-size="6.4" textLength="52.32" lengthAdjust="spacingAndGlyphs" transform="rotate(-90 44.2 123.9)" xml:space="preserve">Integration [HH]</text>
<g clip-path="url(#ca)"><text x="296.1" y="7.1" font-size="6.4" textLength="39.24" lengthAdjust="spacingAndGlyphs" xml:space="preserve">R   = O.9541</text><path d="M302.64 2.37L305.19 4.92L302.64 7.47L300.09 4.92Z" fill="#8fd070"/><text x="273.3" y="13.8" font-size="6.4" textLength="68.67" lengthAdjust="spacingAndGlyphs" xml:space="preserve">y = O.87O6 x + O.87O6</text></g>
<text x="370.2" y="6.4" font-size="5.8" textLength="18.83" lengthAdjust="spacingAndGlyphs" xml:space="preserve">1.O8827</text>
<text x="386.9" y="204.2" font-size="5.8" textLength="2.69" lengthAdjust="spacingAndGlyphs" xml:space="preserve">O</text>
<text x="399.6" y="218.0" font-size="5.8" textLength="2.69" lengthAdjust="spacingAndGlyphs" xml:space="preserve">O</text>
<text x="656.4" y="219.1" font-size="5.8" textLength="18.83" lengthAdjust="spacingAndGlyphs" xml:space="preserve">3.626O7</text>
<text x="532.8" y="213.9" font-size="5.8" textLength="51.11" lengthAdjust="spacingAndGlyphs" xml:space="preserve">Integration [HH] R3</text>
<text x="390.8" y="121.8" font-size="5.8" textLength="43.04" lengthAdjust="spacingAndGlyphs" transform="rotate(-90 390.8 121.8)" xml:space="preserve">Integration [HH]</text>
<g clip-path="url(#cbp)"><text x="647.3" y="5.1" font-size="5.8" textLength="29.59" lengthAdjust="spacingAndGlyphs" xml:space="preserve">R   = O.921</text><path d="M652.68 1.03L654.78 3.13L652.68 5.23L650.58 3.13Z" fill="#8fd070"/><text x="619.2" y="10.7" font-size="5.8" textLength="59.18" lengthAdjust="spacingAndGlyphs" xml:space="preserve">y = O.7654O3 x + O.7O5</text></g>
<text x="19.4" y="267.8" font-size="6.3" textLength="21.77" lengthAdjust="spacingAndGlyphs" xml:space="preserve">2.88229</text>
<text x="38.2" y="455.2" font-size="6.3" textLength="3.11" lengthAdjust="spacingAndGlyphs" xml:space="preserve">O</text>
<text x="52.0" y="472.8" font-size="6.3" textLength="3.11" lengthAdjust="spacingAndGlyphs" xml:space="preserve">O</text>
<text x="309.9" y="472.8" font-size="6.3" textLength="21.77" lengthAdjust="spacingAndGlyphs" xml:space="preserve">3.66O95</text>
<text x="187.2" y="466.9" font-size="6.3" textLength="59.09" lengthAdjust="spacingAndGlyphs" xml:space="preserve">Integration [HH] R3</text>
<text x="43.0" y="381.4" font-size="6.3" textLength="49.76" lengthAdjust="spacingAndGlyphs" transform="rotate(-90 43.0 381.4)" xml:space="preserve">Integration [HH]</text>
<g clip-path="url(#cc)"><text x="298.4" y="266.6" font-size="6.3" textLength="37.32" lengthAdjust="spacingAndGlyphs" xml:space="preserve">R   = O.9O2O</text><path d="M304.62 262.03L307.05 264.46L304.62 266.88L302.19 264.46Z" fill="#8fd070"/><text x="266.0" y="273.3" font-size="6.3" textLength="68.42" lengthAdjust="spacingAndGlyphs" xml:space="preserve">y = O.615289 x + O.615</text></g>
<text x="370.2" y="266.8" font-size="5.8" textLength="19.18" lengthAdjust="spacingAndGlyphs" xml:space="preserve">2.37562</text>
<text x="386.9" y="456.8" font-size="5.8" textLength="2.74" lengthAdjust="spacingAndGlyphs" xml:space="preserve">O</text>
<text x="399.6" y="473.0" font-size="5.8" textLength="2.74" lengthAdjust="spacingAndGlyphs" xml:space="preserve">O</text>
<text x="654.8" y="473.0" font-size="5.8" textLength="19.18" lengthAdjust="spacingAndGlyphs" xml:space="preserve">3.96241</text>
<text x="532.8" y="467.4" font-size="5.8" textLength="52.06" lengthAdjust="spacingAndGlyphs" xml:space="preserve">Integration [HH] R3</text>
<text x="391.5" y="380.2" font-size="5.8" textLength="43.84" lengthAdjust="spacingAndGlyphs" transform="rotate(-90 391.5 380.2)" xml:space="preserve">Integration [HH]</text>
<g clip-path="url(#cd)"><text x="644.8" y="265.7" font-size="5.8" textLength="32.88" lengthAdjust="spacingAndGlyphs" xml:space="preserve">R   = O.8129</text><path d="M650.28 261.59L652.42 263.73L650.28 265.87L648.14 263.73Z" fill="#8fd070"/><text x="615.9" y="272.7" font-size="5.8" textLength="60.28" lengthAdjust="spacingAndGlyphs" xml:space="preserve">y = O.454158 x + O.454</text></g>
</g>
<rect x="251.8" y="225.4" width="79.4" height="7.6" fill="url(#cb)"/>
<rect x="594.8" y="227.6" width="79.2" height="7.5" fill="url(#cb)"/>
<rect x="254.8" y="480.9" width="78.4" height="7.6" fill="url(#cb)"/>
<rect x="596.9" y="481" width="79.1" height="7.7" fill="url(#cb)"/>
<g font-family="Liberation Serif, serif" fill="#262626">
<text x="32.2" y="235.2" font-size="10.5"><tspan textLength="64.4" lengthAdjust="spacingAndGlyphs">Comprehension</tspan><tspan x="96.4" textLength="29.4" lengthAdjust="spacingAndGlyphs">=0.9541</tspan></text>
<text x="393.4" y="234.6" font-size="10.5"><tspan textLength="64.4" lengthAdjust="spacingAndGlyphs">Comprehension</tspan><tspan x="457.6" textLength="29.4" lengthAdjust="spacingAndGlyphs">=0.9215</tspan></text>
<text x="29.6" y="490.2" font-size="10.5"><tspan textLength="64.4" lengthAdjust="spacingAndGlyphs">Comprehension</tspan><tspan x="93.8" textLength="28.9" lengthAdjust="spacingAndGlyphs">=0.9020</tspan></text>
<text x="393.6" y="489.9" font-size="10.5"><tspan textLength="64.4" lengthAdjust="spacingAndGlyphs">Comprehension</tspan><tspan x="457.8" textLength="29.5" lengthAdjust="spacingAndGlyphs">=0.8129</tspan></text>
<text x="170.8" y="251.7" font-size="11.5">(a)</text>
<text x="522.7" y="251.0" font-size="11.5">(b)</text>
<text x="172.2" y="502.3" font-size="11.5">(c)</text>
<text x="523.7" y="502.3" font-size="11.5">(d)</text>
<text x="241.7" y="244.7" font-size="10" textLength="20.4" lengthAdjust="spacingAndGlyphs">High</text>
<text x="321.9" y="244.7" font-size="10" textLength="18" lengthAdjust="spacingAndGlyphs">Low</text>
<text x="584.3" y="247.2" font-size="10" textLength="20.4" lengthAdjust="spacingAndGlyphs">High</text>
<text x="665.3" y="247.2" font-size="10" textLength="18" lengthAdjust="spacingAndGlyphs">Low</text>
<text x="244.3" y="500.5" font-size="10" textLength="20.4" lengthAdjust="spacingAndGlyphs">High</text>
<text x="324.8" y="500.5" font-size="10" textLength="18" lengthAdjust="spacingAndGlyphs">Low</text>
<text x="586.5" y="500.6" font-size="10" textLength="20.4" lengthAdjust="spacingAndGlyphs">High</text>
<text x="667.5" y="500.6" font-size="10" textLength="18" lengthAdjust="spacingAndGlyphs">Low</text>
<text x="7.8" y="136.3" font-size="10.5" textLength="60.6" lengthAdjust="spacingAndGlyphs" transform="rotate(-90 7.8 136.3)" fill="#404040">AD 1120-1367</text>
<text x="359.3" y="143.8" font-size="10.5" textLength="66.8" lengthAdjust="spacingAndGlyphs" transform="rotate(-90 359.3 143.8)" fill="#404040">AD 11368-1642</text>
<text x="7.6" y="409.3" font-size="10.5" textLength="60.3" lengthAdjust="spacingAndGlyphs" transform="rotate(-90 7.6 409.3)" fill="#404040">AD 1662-1911</text>
<text x="360.3" y="408.9" font-size="10.5" textLength="61" lengthAdjust="spacingAndGlyphs" transform="rotate(-90 360.3 408.9)" fill="#404040">AD 1912-1947</text>
</g>
</svg>
</body></html>
